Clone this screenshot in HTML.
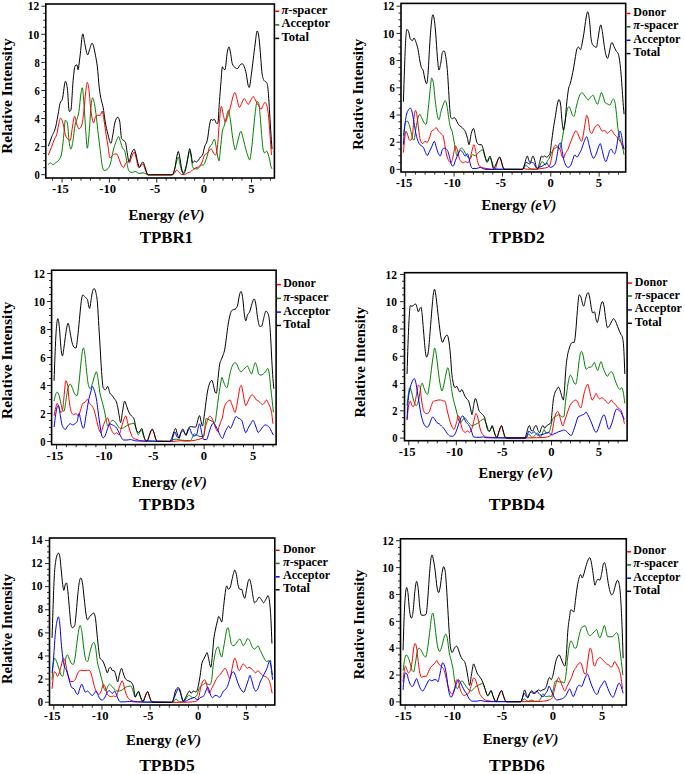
<!DOCTYPE html>
<html><head><meta charset="utf-8"><style>
html,body{margin:0;padding:0;background:#fff;}
svg{display:block;}
text{font-family:"Liberation Serif", serif;font-weight:bold;fill:#000;}
</style></head><body>
<svg width="685" height="774" viewBox="0 0 685 774">
<path d="M48.33,164.69 C48.97,164.04 49.62,162.75 50.26,162.75 C51.1,162.75 51.94,164.69 52.78,164.69 C53.75,164.69 54.72,163.54 55.69,162.75 C56.98,161.71 58.27,161.46 59.57,158.88 C60.21,157.58 60.86,157.26 61.5,154.03 C62.15,150.8 62.8,144.18 63.44,138.53 C64.09,132.87 64.73,120.12 65.38,120.12 C66.03,120.12 66.67,121.09 67.32,123.02 C67.96,124.96 68.61,137.96 69.26,142.4 C69.77,145.96 70.29,149.19 70.81,149.19 C71.45,149.19 72.1,145.84 72.74,142.4 C73.52,138.28 74.29,128.87 75.07,124.96 C75.72,121.7 76.36,121.41 77.01,119.15 C77.65,116.89 78.3,115.59 78.95,111.4 C79.59,107.2 80.24,98.08 80.88,93.95 C81.34,91.06 81.79,87.75 82.24,87.75 C82.76,87.75 83.27,95.68 83.79,101.71 C84.44,109.24 85.08,122.43 85.73,130.78 C86.25,137.45 86.76,148.22 87.28,148.22 C87.86,148.22 88.44,140.89 89.02,134.65 C89.67,127.72 90.32,113.78 90.96,107.52 C91.48,102.51 91.99,97.83 92.51,97.83 C93.16,97.83 93.8,100.41 94.45,103.64 C95.1,106.87 95.74,112.04 96.39,117.21 C97.03,122.38 97.68,129.16 98.33,134.65 C98.97,140.14 99.62,144.99 100.26,150.16 C100.91,155.32 101.56,162.43 102.2,165.66 C102.85,168.89 103.49,170.5 104.14,170.5 C105.43,170.5 106.72,169.86 108.02,168.57 C108.98,167.6 109.95,165.59 110.92,161.78 C111.57,159.24 112.21,154.89 112.86,152.09 C113.83,147.89 114.8,144.99 115.77,142.4 C116.74,139.82 117.71,136.59 118.67,136.59 C119.32,136.59 119.97,140.47 120.61,142.4 C121.26,144.34 121.9,146.93 122.55,148.22 C123.2,149.51 123.84,148.86 124.49,150.16 C124.94,151.06 125.39,153.62 125.84,155.97 C126.36,158.66 126.88,163.18 127.4,165.66 C128.04,168.76 128.69,171.04 129.33,171.47 C130.3,172.12 131.27,172.44 132.24,172.44 C133.21,172.44 134.18,171.47 135.15,171.47 C136.44,171.47 137.73,173.41 139.02,173.41 C140.34,173.41 141.66,172.86 142.98,172.86 C143.97,172.86 144.96,173.42 145.96,173.85 C146.62,174.14 147.28,174.84 147.94,174.84 C156.21,174.84 164.49,174.84 172.76,174.84 C173.42,174.84 174.08,171.2 174.74,168.89 C175.41,166.57 176.07,163.05 176.73,160.95 C177.26,159.28 177.79,156.98 178.32,156.98 C178.91,156.98 179.51,162.61 180.11,164.92 C180.97,168.26 181.83,172.86 182.69,172.86 C183.55,172.86 184.41,171.39 185.27,168.89 C186.06,166.58 186.86,162.2 187.65,158.97 C188.31,156.27 188.97,151.03 189.64,151.03 C190.16,151.03 190.69,154.04 191.22,156.98 C191.69,159.56 192.15,165.98 192.61,166.9 C193.27,168.23 193.94,168.89 194.6,168.89 C195.59,168.89 196.58,168.89 197.58,168.89 C198.24,168.89 198.9,167.57 199.56,166.9 C200.22,166.24 200.89,164.92 201.55,164.92 C202.21,164.92 202.87,164.92 203.53,164.92 C204.19,164.92 204.86,162.61 205.52,160.95 C206.18,159.3 206.84,157.31 207.5,155 C208.17,152.69 208.83,148.39 209.49,147.06 C210.15,145.74 210.81,146.01 211.47,145.08 C212.47,143.69 213.46,139.13 214.45,139.13 C214.92,139.13 215.38,142.67 215.84,145.08 C216.37,147.83 216.9,152.35 217.43,155 C217.96,157.65 218.49,160.95 219.02,160.95 C219.48,160.95 219.95,153.1 220.41,149.05 C221.07,143.26 221.73,135.16 222.39,131.19 C223.06,127.22 223.72,127.55 224.38,125.24 C225.04,122.92 225.7,119.78 226.36,117.3 C227.03,114.82 227.69,110.36 228.35,110.36 C229.01,110.36 229.67,115.15 230.34,119.29 C231,123.42 231.66,130.53 232.32,135.16 C232.98,139.79 233.64,144.42 234.31,147.06 C234.64,148.39 234.97,150.04 235.3,150.04 C235.96,150.04 236.62,145.58 237.28,143.1 C237.95,140.62 238.61,137.25 239.27,135.16 C239.8,133.48 240.33,131.19 240.86,131.19 C241.52,131.19 242.18,134.81 242.84,137.14 C243.64,139.94 244.43,144.05 245.23,147.06 C246.22,150.83 247.21,154.48 248.2,156.98 C248.67,158.15 249.13,159.96 249.59,159.96 C250.26,159.96 250.92,154.34 251.58,149.05 C252.11,144.81 252.64,138.47 253.17,133.17 C253.83,126.56 254.49,118.62 255.15,113.33 C255.82,108.04 256.48,101.43 257.14,101.43 C257.67,101.43 258.2,102.09 258.73,103.41 C259.19,104.57 259.65,110.36 260.12,115.32 C260.58,120.28 261.04,127.84 261.51,133.17 C262.04,139.27 262.57,146.4 263.09,149.05 C263.62,151.69 264.15,153.02 264.68,153.02 C265.35,153.02 266.01,151.03 266.67,151.03 C267.13,151.03 267.6,152.69 268.06,154.01 C268.52,155.33 268.98,157.01 269.45,158.97 C269.98,161.21 270.51,165.24 271.04,166.9 C271.37,167.95 271.7,168.23 272.03,168.89" fill="none" stroke="#008000" stroke-width="1.0" stroke-linejoin="round"/>
<path d="M48.33,155 C49.49,152.09 50.65,149.29 51.81,146.28 C52.78,143.77 53.75,140.72 54.72,138.53 C55.37,137.06 56.01,136.91 56.66,134.65 C57.3,132.39 57.95,127.71 58.6,124.96 C59.24,122.22 59.89,118.18 60.53,118.18 C61.5,118.18 62.47,121.15 63.44,124.96 C64.09,127.5 64.73,132.5 65.38,134.65 C66.35,137.88 67.32,138.56 68.29,139.5 C68.93,140.12 69.58,140.47 70.22,140.47 C70.87,140.47 71.52,132.43 72.16,128.84 C73,124.16 73.84,116.24 74.68,116.24 C75.46,116.24 76.23,122.79 77.01,124.96 C77.65,126.77 78.3,128.84 78.95,128.84 C79.91,128.84 80.88,127.55 81.85,124.96 C82.5,123.24 83.14,116.89 83.79,111.4 C84.44,105.9 85.08,97.13 85.73,92.02 C86.25,87.92 86.76,82.33 87.28,82.33 C87.86,82.33 88.44,85.4 89.02,90.08 C89.54,94.24 90.06,102.8 90.57,107.52 C91.22,113.42 91.87,117.42 92.51,120.12 C92.83,121.46 93.16,123.02 93.48,123.02 C94.13,123.02 94.77,118.5 95.42,117.21 C96.06,115.92 96.71,115.27 97.36,115.27 C98.33,115.27 99.29,115.27 100.26,115.27 C100.91,115.27 101.56,111.01 102.2,111.01 C102.85,111.01 103.49,117.14 104.14,121.09 C104.79,125.03 105.43,130.45 106.08,134.65 C106.72,138.85 107.37,142.4 108.02,146.28 C108.66,150.16 109.31,157.91 109.95,157.91 C110.6,157.91 111.25,156.53 111.89,155.97 C112.86,155.13 113.83,154.03 114.8,154.03 C115.44,154.03 116.09,154.03 116.74,154.03 C117.38,154.03 118.03,156.44 118.67,157.91 C119.64,160.1 120.61,164.04 121.58,165.66 C122.23,166.74 122.87,167.6 123.52,167.6 C124.17,167.6 124.81,164.69 125.46,163.72 C126.1,162.75 126.75,161.78 127.4,161.78 C128.04,161.78 128.69,162.75 129.33,162.75 C129.98,162.75 130.63,159.39 131.27,157.91 C132.24,155.68 133.21,152.09 134.18,152.09 C134.82,152.09 135.47,155.73 136.12,157.91 C136.96,160.74 137.8,167.6 138.64,167.6 C139.41,167.6 140.19,166.32 140.96,165.66 C141.63,165.09 142.31,163.93 142.98,163.93 C143.64,163.93 144.3,167.37 144.96,168.89 C145.96,171.17 146.95,174.84 147.94,174.84 C155.88,174.84 163.82,174.84 171.77,174.84 C172.76,174.84 173.75,174.01 174.74,172.86 C175.41,172.09 176.07,169.88 176.73,169.88 C177.39,169.88 178.05,171.24 178.72,171.87 C179.71,172.8 180.7,174.44 181.69,174.44 C182.69,174.44 183.68,174.44 184.67,174.44 C185.66,174.44 186.66,173.29 187.65,172.86 C188.64,172.43 189.64,172.53 190.63,171.87 C191.29,171.42 191.95,170.45 192.61,169.88 C193.61,169.02 194.6,168.39 195.59,167.9 C196.58,167.4 197.58,167.57 198.57,166.9 C199.23,166.46 199.89,165.91 200.55,164.92 C201.22,163.93 201.88,162.61 202.54,160.95 C203.2,159.3 203.86,155.88 204.53,155 C205.52,153.68 206.51,154.17 207.5,153.02 C208.17,152.24 208.83,150.7 209.49,150.04 C210.15,149.38 210.81,149.05 211.47,149.05 C212.14,149.05 212.8,152.02 213.46,153.02 C214.12,154.01 214.78,155 215.45,155 C216.11,155 216.77,152.35 217.43,147.06 C218.09,141.77 218.75,128.05 219.42,121.27 C220.08,114.49 220.74,106.39 221.4,106.39 C222.06,106.39 222.73,112.67 223.39,115.32 C224.05,117.96 224.71,122.26 225.37,122.26 C226.03,122.26 226.7,119.12 227.36,117.3 C228.02,115.48 228.68,113.66 229.34,111.35 C230,109.03 230.67,106.06 231.33,103.41 C231.99,100.77 232.65,97.34 233.31,95.48 C233.84,93.98 234.37,92.5 234.9,92.5 C235.56,92.5 236.23,96.24 236.89,98.45 C237.68,101.1 238.48,107.38 239.27,107.38 C240.06,107.38 240.86,104.83 241.65,103.41 C242.51,101.87 243.37,98.45 244.23,98.45 C244.9,98.45 245.56,100.44 246.22,101.43 C246.88,102.42 247.54,104.4 248.2,104.4 C249.2,104.4 250.19,101 251.18,99.44 C251.84,98.41 252.51,96.47 253.17,96.47 C253.83,96.47 254.49,98.29 255.15,99.44 C255.82,100.6 256.48,102.26 257.14,103.41 C257.8,104.57 258.46,105.4 259.12,106.39 C259.79,107.38 260.45,109.37 261.11,109.37 C261.77,109.37 262.43,106.55 263.09,105.4 C263.76,104.24 264.42,102.42 265.08,102.42 C265.74,102.42 266.4,103.74 267.07,106.39 C267.6,108.51 268.12,111.98 268.65,117.3 C269.12,121.96 269.58,128.88 270.04,135.16 C270.51,141.44 270.97,148.39 271.43,155" fill="none" stroke="#ff0000" stroke-width="1.0" stroke-linejoin="round"/>
<path d="M48.33,146.28 C49.49,143.05 50.65,139.67 51.81,136.59 C53.11,133.17 54.4,132.22 55.69,126.9 C56.66,122.91 57.63,116.81 58.6,111.4 C59.05,108.87 59.5,105.38 59.95,103.64 C60.79,100.41 61.63,102 62.47,98.8 C63.44,95.1 64.41,81.36 65.38,81.36 C66.03,81.36 66.67,83.62 67.32,88.14 C67.96,92.66 68.61,111.4 69.26,111.4 C69.77,111.4 70.29,111.07 70.81,110.43 C71.58,109.46 72.36,88.11 73.13,80.39 C73.78,73.95 74.42,66.5 75.07,65.85 C75.72,65.21 76.36,64.88 77.01,64.88 C77.33,64.88 77.65,69.73 77.98,69.73 C78.62,69.73 79.27,61.72 79.91,57.13 C80.88,50.25 81.85,33.88 82.82,33.88 C83.47,33.88 84.11,40.63 84.76,43.57 C85.73,47.97 86.7,54.81 87.67,54.81 C88.31,54.81 88.96,51.09 89.6,49.38 C90.44,47.15 91.28,43.18 92.12,43.18 C93.22,43.18 94.32,49.56 95.42,55.19 C96.06,58.51 96.71,61.33 97.36,66.82 C98,72.31 98.65,82.65 99.29,88.14 C99.94,93.63 100.59,96.54 101.23,99.77 C101.88,103 102.52,103.97 103.17,107.52 C103.82,111.07 104.46,117.17 105.11,121.09 C106.08,126.96 107.05,130.94 108.02,134.65 C108.98,138.37 109.95,143.37 110.92,143.37 C111.57,143.37 112.21,138.04 112.86,134.65 C113.51,131.26 114.15,125.61 114.8,123.02 C115.77,119.15 116.74,117.21 117.71,117.21 C118.35,117.21 119,118.5 119.64,121.09 C120.29,123.67 120.94,137.24 121.58,138.53 C122.23,139.82 122.87,139.82 123.52,140.47 C124.17,141.11 124.81,141.11 125.46,142.4 C126.1,143.7 126.75,150.51 127.4,154.03 C127.91,156.84 128.43,161.78 128.95,161.78 C129.72,161.78 130.5,156.04 131.27,154.03 C132.24,151.52 133.21,149.19 134.18,149.19 C134.82,149.19 135.47,152.58 136.12,155 C136.76,157.42 137.41,161.58 138.05,163.72 C138.57,165.44 139.09,167.4 139.6,167.4 C140.19,167.4 140.77,164.64 141.35,163.72 C141.89,162.86 142.44,161.94 142.98,161.94 C143.64,161.94 144.3,165.21 144.96,166.9 C145.96,169.45 146.95,174.84 147.94,174.84 C155.88,174.84 163.82,174.84 171.77,174.84 C172.76,174.84 173.75,172.86 174.74,168.89 C175.41,166.24 176.07,160.03 176.73,156.98 C177.26,154.54 177.79,151.43 178.32,151.43 C178.78,151.43 179.24,154.75 179.71,156.98 C180.37,160.17 181.03,166.08 181.69,168.89 C182.36,171.7 183.02,173.85 183.68,173.85 C184.67,173.85 185.66,169.68 186.66,164.92 C187.32,161.75 187.98,156.28 188.64,153.02 C188.97,151.38 189.3,148.65 189.64,148.65 C190.16,148.65 190.69,152.4 191.22,155 C191.69,157.28 192.15,162.94 192.61,162.94 C193.27,162.94 193.94,160.95 194.6,160.95 C195.26,160.95 195.92,161.94 196.58,161.94 C197.25,161.94 197.91,160.79 198.57,159.96 C199.23,159.13 199.89,157.81 200.55,156.98 C201.22,156.16 201.88,156.32 202.54,155 C203.2,153.68 203.86,149.36 204.53,147.06 C205.52,143.62 206.51,144.35 207.5,139.13 C208.17,135.64 208.83,128.67 209.49,125.24 C210.02,122.49 210.55,119.29 211.08,119.29 C211.54,119.29 212,120.28 212.47,120.28 C213.13,120.28 213.79,119.29 214.45,119.29 C215.11,119.29 215.78,123.25 216.44,123.25 C216.9,123.25 217.36,123.25 217.83,123.25 C218.36,123.25 218.89,108.37 219.42,101.43 C219.95,94.48 220.47,87.7 221,81.59 C221.47,76.24 221.93,66.71 222.39,66.71 C222.73,66.71 223.06,68.28 223.39,68.69 C223.92,69.35 224.45,69.68 224.98,69.68 C225.77,69.68 226.56,55.69 227.36,51.83 C227.89,49.25 228.42,46.87 228.95,46.87 C229.41,46.87 229.87,49.71 230.34,51.83 C231,54.85 231.66,61.97 232.32,63.73 C233.31,66.38 234.31,66.87 235.3,67.7 C235.96,68.25 236.62,68.69 237.28,68.69 C238.28,68.69 239.27,65.55 240.26,64.72 C240.92,64.17 241.59,63.73 242.25,63.73 C242.91,63.73 243.57,65.05 244.23,66.71 C244.9,68.36 245.56,70.51 246.22,73.65 C246.88,76.79 247.54,83.35 248.2,85.56 C248.54,86.66 248.87,87.54 249.2,87.54 C249.86,87.54 250.52,80.26 251.18,75.63 C251.84,71.01 252.51,65.05 253.17,59.76 C253.83,54.47 254.49,48.68 255.15,43.89 C255.82,39.09 256.48,30.99 257.14,30.99 C257.67,30.99 258.2,32.65 258.73,35.95 C259.19,38.85 259.65,44.83 260.12,49.84 C260.78,57 261.44,69.02 262.1,73.65 C262.76,78.28 263.43,79.58 264.09,80.6 C264.95,81.92 265.81,81.26 266.67,82.58 C267.13,83.29 267.6,85.06 268.06,89.52 C268.52,93.99 268.98,102.16 269.45,109.37 C269.85,115.54 270.24,123.03 270.64,129.21 C271.1,136.41 271.57,142.43 272.03,149.05" fill="none" stroke="#000000" stroke-width="1.0" stroke-linejoin="round"/>
<rect x="45.8" y="4" width="228.6" height="174" fill="none" stroke="#000" stroke-width="1.6"/>
<line x1="41.3" y1="174.7" x2="45.8" y2="174.7" stroke="#111" stroke-width="0.9"/>
<text x="34.6" y="178.94" font-size="12.8" textLength="5.3" lengthAdjust="spacingAndGlyphs">0</text>
<line x1="43.3" y1="167.68" x2="45.8" y2="167.68" stroke="#111" stroke-width="0.9"/>
<line x1="43.3" y1="160.66" x2="45.8" y2="160.66" stroke="#111" stroke-width="0.9"/>
<line x1="43.3" y1="153.64" x2="45.8" y2="153.64" stroke="#111" stroke-width="0.9"/>
<line x1="41.3" y1="146.62" x2="45.8" y2="146.62" stroke="#111" stroke-width="0.9"/>
<text x="34.6" y="150.86" font-size="12.8" textLength="5.3" lengthAdjust="spacingAndGlyphs">2</text>
<line x1="43.3" y1="139.6" x2="45.8" y2="139.6" stroke="#111" stroke-width="0.9"/>
<line x1="43.3" y1="132.58" x2="45.8" y2="132.58" stroke="#111" stroke-width="0.9"/>
<line x1="43.3" y1="125.56" x2="45.8" y2="125.56" stroke="#111" stroke-width="0.9"/>
<line x1="41.3" y1="118.54" x2="45.8" y2="118.54" stroke="#111" stroke-width="0.9"/>
<text x="34.6" y="122.78" font-size="12.8" textLength="5.3" lengthAdjust="spacingAndGlyphs">4</text>
<line x1="43.3" y1="111.52" x2="45.8" y2="111.52" stroke="#111" stroke-width="0.9"/>
<line x1="43.3" y1="104.5" x2="45.8" y2="104.5" stroke="#111" stroke-width="0.9"/>
<line x1="43.3" y1="97.48" x2="45.8" y2="97.48" stroke="#111" stroke-width="0.9"/>
<line x1="41.3" y1="90.46" x2="45.8" y2="90.46" stroke="#111" stroke-width="0.9"/>
<text x="34.6" y="94.7" font-size="12.8" textLength="5.3" lengthAdjust="spacingAndGlyphs">6</text>
<line x1="43.3" y1="83.44" x2="45.8" y2="83.44" stroke="#111" stroke-width="0.9"/>
<line x1="43.3" y1="76.42" x2="45.8" y2="76.42" stroke="#111" stroke-width="0.9"/>
<line x1="43.3" y1="69.4" x2="45.8" y2="69.4" stroke="#111" stroke-width="0.9"/>
<line x1="41.3" y1="62.38" x2="45.8" y2="62.38" stroke="#111" stroke-width="0.9"/>
<text x="34.6" y="66.62" font-size="12.8" textLength="5.3" lengthAdjust="spacingAndGlyphs">8</text>
<line x1="43.3" y1="55.36" x2="45.8" y2="55.36" stroke="#111" stroke-width="0.9"/>
<line x1="43.3" y1="48.34" x2="45.8" y2="48.34" stroke="#111" stroke-width="0.9"/>
<line x1="43.3" y1="41.32" x2="45.8" y2="41.32" stroke="#111" stroke-width="0.9"/>
<line x1="41.3" y1="34.3" x2="45.8" y2="34.3" stroke="#111" stroke-width="0.9"/>
<text x="27.8" y="38.54" font-size="12.8" textLength="11.5" lengthAdjust="spacingAndGlyphs">10</text>
<line x1="43.3" y1="27.28" x2="45.8" y2="27.28" stroke="#111" stroke-width="0.9"/>
<line x1="43.3" y1="20.26" x2="45.8" y2="20.26" stroke="#111" stroke-width="0.9"/>
<line x1="43.3" y1="13.24" x2="45.8" y2="13.24" stroke="#111" stroke-width="0.9"/>
<line x1="41.3" y1="6.22" x2="45.8" y2="6.22" stroke="#111" stroke-width="0.9"/>
<text x="27.8" y="10.46" font-size="12.8" textLength="11.5" lengthAdjust="spacingAndGlyphs">12</text>
<line x1="52.58" y1="178" x2="52.58" y2="180.6" stroke="#111" stroke-width="0.9"/>
<line x1="62.05" y1="178" x2="62.05" y2="182.6" stroke="#111" stroke-width="0.9"/>
<text x="60.35" y="193.2" text-anchor="middle" font-size="12.6">-15</text>
<line x1="71.52" y1="178" x2="71.52" y2="180.6" stroke="#111" stroke-width="0.9"/>
<line x1="80.99" y1="178" x2="80.99" y2="180.6" stroke="#111" stroke-width="0.9"/>
<line x1="90.46" y1="178" x2="90.46" y2="180.6" stroke="#111" stroke-width="0.9"/>
<line x1="99.93" y1="178" x2="99.93" y2="180.6" stroke="#111" stroke-width="0.9"/>
<line x1="109.4" y1="178" x2="109.4" y2="182.6" stroke="#111" stroke-width="0.9"/>
<text x="107.7" y="193.2" text-anchor="middle" font-size="12.6">-10</text>
<line x1="118.87" y1="178" x2="118.87" y2="180.6" stroke="#111" stroke-width="0.9"/>
<line x1="128.34" y1="178" x2="128.34" y2="180.6" stroke="#111" stroke-width="0.9"/>
<line x1="137.81" y1="178" x2="137.81" y2="180.6" stroke="#111" stroke-width="0.9"/>
<line x1="147.28" y1="178" x2="147.28" y2="180.6" stroke="#111" stroke-width="0.9"/>
<line x1="156.75" y1="178" x2="156.75" y2="182.6" stroke="#111" stroke-width="0.9"/>
<text x="155.05" y="193.2" text-anchor="middle" font-size="12.6">-5</text>
<line x1="166.22" y1="178" x2="166.22" y2="180.6" stroke="#111" stroke-width="0.9"/>
<line x1="175.69" y1="178" x2="175.69" y2="180.6" stroke="#111" stroke-width="0.9"/>
<line x1="185.16" y1="178" x2="185.16" y2="180.6" stroke="#111" stroke-width="0.9"/>
<line x1="194.63" y1="178" x2="194.63" y2="180.6" stroke="#111" stroke-width="0.9"/>
<line x1="204.1" y1="178" x2="204.1" y2="182.6" stroke="#111" stroke-width="0.9"/>
<text x="203.95" y="193.2" text-anchor="middle" font-size="12.6">0</text>
<line x1="213.57" y1="178" x2="213.57" y2="180.6" stroke="#111" stroke-width="0.9"/>
<line x1="223.04" y1="178" x2="223.04" y2="180.6" stroke="#111" stroke-width="0.9"/>
<line x1="232.51" y1="178" x2="232.51" y2="180.6" stroke="#111" stroke-width="0.9"/>
<line x1="241.98" y1="178" x2="241.98" y2="180.6" stroke="#111" stroke-width="0.9"/>
<line x1="251.45" y1="178" x2="251.45" y2="182.6" stroke="#111" stroke-width="0.9"/>
<text x="251.3" y="193.2" text-anchor="middle" font-size="12.6">5</text>
<line x1="260.92" y1="178" x2="260.92" y2="180.6" stroke="#111" stroke-width="0.9"/>
<line x1="270.39" y1="178" x2="270.39" y2="180.6" stroke="#111" stroke-width="0.9"/>
<line x1="275.2" y1="11.2" x2="279.2" y2="11.2" stroke="#ff0000" stroke-width="1.5"/>
<text x="281.4" y="13.7" font-size="12.6" textLength="46" lengthAdjust="spacingAndGlyphs"><tspan font-style="italic">π</tspan>-spacer</text>
<line x1="275.2" y1="24.9" x2="279.2" y2="24.9" stroke="#008000" stroke-width="1.5"/>
<text x="281.4" y="27.4" font-size="12.6" textLength="48.6" lengthAdjust="spacingAndGlyphs">Acceptor</text>
<line x1="275.2" y1="38.4" x2="279.2" y2="38.4" stroke="#000000" stroke-width="1.5"/>
<text x="281.4" y="40.9" font-size="12.6" textLength="27.5" lengthAdjust="spacingAndGlyphs">Total</text>
<text transform="translate(12.3,96.05) rotate(-90)" text-anchor="middle" font-size="15.3" textLength="115.3" lengthAdjust="spacingAndGlyphs">Relative Intensity</text>
<text x="128.5" y="219.7" font-size="13.6" textLength="75.9" lengthAdjust="spacingAndGlyphs">Energy <tspan font-style="italic">(eV)</tspan></text>
<text x="139.7" y="243" font-size="17.5" textLength="53.3" lengthAdjust="spacingAndGlyphs">TPBR1</text>
<path d="M403.39,135.66 C403.92,131.89 404.45,125.94 404.98,124.35 C405.73,122.09 406.49,120.96 407.24,120.96 C407.84,120.96 408.45,122.66 409.05,124.35 C409.65,126.05 410.26,128.7 410.86,131.14 C411.39,133.27 411.92,136.41 412.44,137.92 C412.97,139.43 413.5,140.18 414.03,140.18 C414.63,140.18 415.23,132.31 415.84,128.88 C416.59,124.58 417.35,120.03 418.1,117.57 C418.7,115.6 419.31,114.18 419.91,114.18 C420.44,114.18 420.97,116.47 421.49,117.57 C422.25,119.14 423,120.96 423.76,122.09 C424.51,123.22 425.26,124.35 426.02,124.35 C426.77,124.35 427.53,115.06 428.28,108.53 C428.88,103.3 429.49,95.78 430.09,90.44 C430.62,85.77 431.15,78 431.67,78 C432.28,78 432.88,79.89 433.48,83.66 C434.01,86.95 434.54,94.86 435.07,99.48 C435.82,106.09 436.58,111.87 437.33,115.31 C437.86,117.72 438.39,119.83 438.91,119.83 C439.67,119.83 440.42,113.43 441.18,110.79 C441.93,108.15 442.68,105.8 443.44,104.01 C444.04,102.57 444.65,100.61 445.25,100.61 C445.85,100.61 446.46,103.09 447.06,106.27 C447.59,109.05 448.11,114.18 448.64,117.57 C449.17,120.96 449.7,124.39 450.23,126.61 C450.83,129.16 451.43,128.88 452.04,131.14 C452.64,133.4 453.24,136.94 453.85,140.18 C454.37,143.02 454.9,146.59 455.43,149.22 C455.96,151.86 456.49,156.01 457.01,156.01 C457.77,156.01 458.52,151.67 459.28,150.36 C460.03,149.04 460.78,148.09 461.54,148.09 C462.29,148.09 463.05,149.24 463.8,150.36 C464.4,151.25 465.01,152.72 465.61,153.75 C466.37,155.03 467.12,156.22 467.87,157.14 C468.58,158 469.29,159.15 470,159.15 C470.87,159.15 471.75,154.54 472.62,154.54 C473.5,154.54 474.37,155.85 475.25,155.85 C476.12,155.85 477,154.01 477.87,153.23 C479.41,151.85 480.95,149.95 482.49,149.95 C483.36,149.95 484.24,154.79 485.11,157.16 C485.77,158.94 486.43,162.43 487.08,162.43 C488.07,162.43 489.06,157.59 490.05,157.59 C491.54,157.59 493.03,168 494.52,168.44 C496.03,168.9 497.54,169.09 499.04,169.12 C506.96,169.27 514.87,169.35 522.78,169.35 C523.31,169.35 523.84,167.98 524.36,167.31 C524.97,166.55 525.57,165.05 526.17,165.05 C526.77,165.05 527.38,166.76 527.98,167.31 C528.73,168 529.49,168.15 530.24,168.44 C531.15,168.79 532.05,169.12 532.95,169.12 C534.46,169.12 535.97,169.12 537.48,169.12 C538.23,169.12 538.98,167.43 539.74,166.18 C540.49,164.94 541.24,161.66 542,161.66 C542.6,161.66 543.2,162.16 543.81,162.79 C544.33,163.35 544.86,165.05 545.39,165.05 C546.14,165.05 546.89,161.78 547.65,160.53 C548.18,159.65 548.7,159.29 549.23,158.27 C549.83,157.11 550.44,155.07 551.04,153.75 C551.79,152.1 552.55,150.62 553.3,149.68 C554.05,148.73 554.81,148.59 555.56,148.09 C556.16,147.7 556.77,146.96 557.37,146.96 C557.9,146.96 558.42,149.22 558.95,149.22 C559.71,149.22 560.46,147.72 561.21,144.7 C561.97,141.69 562.72,135.66 563.47,131.14 C564.23,126.61 564.98,121.67 565.73,117.57 C566.34,114.29 566.94,109.91 567.54,108.53 C568.07,107.32 568.6,106.72 569.13,106.72 C569.73,106.72 570.33,109.24 570.93,110.79 C571.46,112.15 571.99,114.56 572.52,115.31 C573.04,116.06 573.57,116.44 574.1,116.44 C574.7,116.44 575.3,111.06 575.91,108.53 C576.66,105.36 577.41,101.93 578.17,99.48 C578.92,97.03 579.68,94.77 580.43,93.83 C581.03,93.08 581.63,92.7 582.24,92.7 C582.84,92.7 583.44,94.18 584.05,94.96 C584.72,95.84 585.4,96.88 586.08,97.67 C586.83,98.56 587.59,99.94 588.34,99.94 C589.1,99.94 589.85,97.99 590.6,97.22 C591.43,96.38 592.26,95.19 593.09,95.19 C593.84,95.19 594.6,99.05 595.35,100.61 C596.03,102.02 596.71,104.23 597.38,104.23 C598.14,104.23 598.89,99.85 599.65,97.67 C600.25,95.93 600.85,92.47 601.45,92.47 C601.98,92.47 602.51,94.73 603.04,96.09 C603.79,98.04 604.54,102.12 605.3,102.87 C606.05,103.63 606.8,103.63 607.56,104.01 C608.31,104.38 609.06,105.14 609.82,105.14 C610.57,105.14 611.33,101.73 612.08,100.61 C612.53,99.94 612.98,99.03 613.44,99.03 C613.89,99.03 614.34,99.94 614.79,101.74 C615.24,103.55 615.7,107.08 616.15,110.79 C616.68,115.12 617.2,122.47 617.73,126.61 C618.26,130.76 618.79,133.13 619.31,135.66 C619.92,138.55 620.52,140.18 621.12,142.44 C621.72,144.7 622.33,146.5 622.93,149.22 C623.31,150.93 623.68,152.99 624.06,154.88" fill="none" stroke="#008000" stroke-width="1.0" stroke-linejoin="round"/>
<path d="M403.39,152.62 C403.77,148.47 404.15,143.5 404.52,140.18 C405.05,135.54 405.58,131.14 406.11,131.14 C406.71,131.14 407.32,134.04 407.92,135.66 C408.45,137.08 408.97,140.18 409.5,140.18 C409.95,140.18 410.41,140.18 410.86,140.18 C411.39,140.18 411.92,138.67 412.44,135.66 C412.97,132.64 413.5,121.87 414.03,117.57 C414.48,113.89 414.93,110.34 415.38,110.34 C415.91,110.34 416.44,112.22 416.97,115.31 C417.5,118.4 418.02,124.93 418.55,128.88 C419.16,133.39 419.76,138.37 420.36,140.18 C421.12,142.44 421.87,143.57 422.62,143.57 C423.38,143.57 424.13,141.31 424.89,141.31 C425.64,141.31 426.4,142.44 427.15,142.44 C427.9,142.44 428.66,139.8 429.41,137.92 C430.17,136.04 430.92,132.08 431.67,131.14 C432.28,130.38 432.88,130.43 433.48,130.01 C434.39,129.37 435.29,127.75 436.2,127.75 C436.95,127.75 437.71,130.19 438.46,131.14 C439.22,132.08 439.97,132.64 440.72,133.4 C441.48,134.15 442.23,134.15 442.99,135.66 C443.59,136.86 444.19,141.46 444.8,144.7 C445.32,147.54 445.85,151.32 446.38,153.75 C447.13,157.21 447.89,159.02 448.64,160.53 C449.4,162.04 450.15,162.79 450.9,162.79 C451.66,162.79 452.41,158.83 453.17,156.01 C453.92,153.18 454.68,145.83 455.43,145.83 C456.18,145.83 456.94,148.81 457.69,151.49 C458.22,153.36 458.75,156.6 459.28,158.27 C459.88,160.17 460.48,161.06 461.09,161.66 C461.84,162.41 462.59,162.79 463.35,162.79 C464.1,162.79 464.86,161.66 465.61,161.66 C466.37,161.66 467.12,162.79 467.87,162.79 C468.63,162.79 469.38,160.53 470.14,158.27 C470.89,156.01 471.64,151.93 472.4,149.22 C472.85,147.6 473.3,144.7 473.76,144.7 C474.28,144.7 474.81,146.96 475.34,149.22 C475.87,151.49 476.4,155.74 476.92,158.27 C477.53,161.16 478.13,164.05 478.73,165.05 C479.64,166.56 480.54,166.86 481.45,167.31 C482.96,168.07 484.46,168.14 485.97,168.44 C488.82,169.01 491.67,169.35 494.52,169.35 C495.05,169.35 495.58,168.23 496.1,166.86 C496.71,165.3 497.31,161.62 497.91,160.08 C498.51,158.55 499.1,157.59 499.7,157.59 C500.23,157.59 500.77,160.09 501.3,161.66 C501.91,163.43 502.51,166.71 503.11,167.76 C503.72,168.82 504.32,169.35 504.92,169.35 C510.5,169.35 516.07,169.35 521.65,169.35 C522.4,169.35 523.16,168.44 523.91,168.44 C524.66,168.44 525.42,169.08 526.17,169.12 C529.19,169.27 532.2,169.35 535.21,169.35 C537.48,169.35 539.74,168.83 542,168.44 C543.88,168.12 545.76,168.07 547.65,167.31 C548.4,167.01 549.16,166.56 549.91,165.05 C550.44,164 550.96,160.71 551.49,158.27 C552.09,155.48 552.7,151.38 553.3,149.22 C554.05,146.53 554.81,145.16 555.56,145.16 C556.31,145.16 557.07,146.29 557.82,146.96 C558.58,147.64 559.33,147.72 560.08,149.22 C560.69,150.43 561.29,154.49 561.89,156.01 C562.42,157.33 562.95,158.27 563.47,158.27 C564.08,158.27 564.68,155.05 565.28,153.75 C566.19,151.79 567.09,151.41 568,149.22 C568.52,147.95 569.05,146.12 569.58,144.7 C570.18,143.08 570.78,141.69 571.39,140.18 C572.14,138.3 572.89,136.11 573.65,134.53 C574.4,132.95 575.15,130.68 575.91,130.68 C576.51,130.68 577.11,132.23 577.72,133.4 C578.47,134.86 579.22,137.64 579.98,139.05 C580.5,140.04 581.03,141.31 581.56,141.31 C582.09,141.31 582.61,138.2 583.14,135.66 C583.74,132.75 584.35,127.75 584.95,124.35 C585.55,120.96 586.16,115.31 586.76,115.31 C587.29,115.31 587.81,117.19 588.34,119.83 C588.87,122.47 589.4,129.82 589.92,131.14 C590.53,132.64 591.13,133.4 591.73,133.4 C592.49,133.4 593.24,130.19 593.99,128.88 C594.75,127.56 595.5,126.05 596.25,125.48 C596.86,125.03 597.46,124.81 598.06,124.81 C598.74,124.81 599.42,126.75 600.1,127.75 C600.85,128.85 601.6,131.14 602.36,131.14 C602.96,131.14 603.56,130.68 604.17,130.68 C604.69,130.68 605.22,130.84 605.75,131.14 C606.35,131.48 606.95,133.4 607.56,133.4 C608.31,133.4 609.06,131.73 609.82,131.14 C610.42,130.66 611.02,130.01 611.63,130.01 C612.31,130.01 612.98,132.42 613.66,133.4 C614.26,134.27 614.87,134.97 615.47,135.66 C616.22,136.52 616.98,136.98 617.73,137.92 C618.48,138.86 619.24,140.18 619.99,141.31 C620.75,142.44 621.5,143.15 622.25,144.7 C622.86,145.94 623.46,147.72 624.06,149.22" fill="none" stroke="#ff0000" stroke-width="1.0" stroke-linejoin="round"/>
<path d="M403.39,144.7 C403.77,139.43 404.15,133.21 404.52,128.88 C405.13,121.94 405.73,118.32 406.33,115.31 C407.09,111.54 407.84,110.88 408.6,109.66 C409.13,108.8 409.65,108.07 410.18,108.07 C410.71,108.07 411.24,109.07 411.76,110.79 C412.37,112.75 412.97,116.44 413.57,119.83 C414.18,123.22 414.78,127.97 415.38,131.14 C416.14,135.09 416.89,137.92 417.65,140.18 C418.4,142.44 419.16,143.77 419.91,144.7 C420.44,145.36 420.97,145.39 421.49,145.83 C422.25,146.46 423,146.78 423.76,148.09 C424.51,149.41 425.26,152.31 426.02,153.75 C426.4,154.46 426.77,155.56 427.15,155.56 C427.9,155.56 428.66,152.92 429.41,151.49 C430.17,150.05 430.92,148.5 431.67,146.96 C432.58,145.12 433.48,141.31 434.39,141.31 C434.99,141.31 435.6,145.11 436.2,146.96 C436.95,149.28 437.71,152.22 438.46,153.75 C439.06,154.97 439.67,156.01 440.27,156.01 C441.03,156.01 441.78,150.3 442.53,149.22 C443.06,148.47 443.59,148.09 444.12,148.09 C444.87,148.09 445.63,148.47 446.38,149.22 C446.91,149.75 447.44,150.16 447.96,151.49 C448.57,153 449.17,156.01 449.77,158.27 C450.38,160.53 450.98,164.19 451.58,165.05 C452.11,165.81 452.64,166.18 453.17,166.18 C453.92,166.18 454.68,162.35 455.43,160.53 C456.41,158.16 457.39,155.56 458.37,153.75 C459.13,152.35 459.88,150.36 460.63,150.36 C461.39,150.36 462.14,151.67 462.9,152.62 C463.65,153.56 464.4,156.01 465.16,156.01 C465.91,156.01 466.67,153.75 467.42,153.75 C467.95,153.75 468.48,156.38 469,158.27 C469.53,160.15 470.06,163.38 470.59,165.05 C471.19,166.96 471.79,168.44 472.4,168.44 C473.91,168.44 475.41,168.44 476.92,168.44 C478.05,168.44 479.19,167.31 480.32,167.31 C481.07,167.31 481.83,168.14 482.58,168.44 C483.71,168.9 484.84,169.35 485.97,169.35 C498.24,169.35 510.51,169.35 522.78,169.35 C523.53,169.35 524.29,165.23 525.04,163.92 C525.42,163.27 525.79,162.34 526.17,162.34 C526.77,162.34 527.38,162.96 527.98,163.24 C528.51,163.49 529.04,163.92 529.56,163.92 C530.32,163.92 531.07,162.34 531.82,162.34 C532.35,162.34 532.88,162.49 533.41,162.79 C534.01,163.14 534.61,165.24 535.21,166.18 C535.82,167.12 536.42,168.44 537.02,168.44 C537.78,168.44 538.53,167.66 539.28,167.31 C540.19,166.89 541.09,166.66 542,166.18 C543.13,165.59 544.26,164.49 545.39,163.92 C545.92,163.66 546.44,163.24 546.97,163.24 C547.57,163.24 548.18,165.5 548.78,166.18 C549.38,166.86 549.98,167.31 550.59,167.31 C551.49,167.31 552.4,166.94 553.3,166.18 C554.05,165.55 554.81,165.05 555.56,162.79 C556.16,160.98 556.77,156.99 557.37,153.75 C557.9,150.91 558.42,145.91 558.95,144.7 C559.48,143.5 560.01,142.89 560.53,142.89 C560.99,142.89 561.44,146.9 561.89,149.22 C562.42,151.94 562.95,155.84 563.47,158.27 C564.23,161.73 564.98,163.54 565.73,165.05 C566.49,166.56 567.24,167.31 568,167.31 C568.75,167.31 569.5,166.94 570.26,166.18 C571.01,165.43 571.76,162.41 572.52,160.53 C573.27,158.65 574.02,154.88 574.78,154.88 C575.53,154.88 576.28,157.14 577.04,157.14 C577.79,157.14 578.55,155.07 579.3,153.75 C580.05,152.43 580.81,151.11 581.56,149.22 C582.31,147.34 583.07,144.35 583.82,142.44 C584.8,139.96 585.78,136.79 586.76,136.79 C587.51,136.79 588.27,141.88 589.02,144.7 C589.77,147.53 590.53,151.49 591.28,153.75 C592.03,156.01 592.79,158.27 593.54,158.27 C594.45,158.27 595.35,155.91 596.25,153.75 C597.01,151.94 597.76,148.75 598.51,146.96 C599.12,145.53 599.72,143.57 600.32,143.57 C600.85,143.57 601.38,147.25 601.91,149.22 C602.66,152.05 603.41,156.08 604.17,158.27 C604.69,159.8 605.22,161.66 605.75,161.66 C606.5,161.66 607.26,158.15 608.01,156.01 C608.61,154.29 609.22,151.22 609.82,150.36 C610.35,149.6 610.87,149.22 611.4,149.22 C612,149.22 612.61,151.86 613.21,152.62 C613.74,153.28 614.26,153.75 614.79,153.75 C615.39,153.75 616,149.98 616.6,146.96 C617.2,143.95 617.81,138.34 618.41,135.66 C618.94,133.32 619.46,131.14 619.99,131.14 C620.52,131.14 621.05,133.07 621.57,135.66 C622.03,137.88 622.48,142.35 622.93,144.7 C623.31,146.67 623.68,147.72 624.06,149.22" fill="none" stroke="#0000ff" stroke-width="1.0" stroke-linejoin="round"/>
<path d="M403.39,101.74 C403.77,90.44 404.15,78 404.52,67.83 C404.9,57.66 405.28,47.1 405.66,40.7 C406.03,34.29 406.41,29.39 406.79,29.39 C407.39,29.39 407.99,30.15 408.6,31.65 C409.13,32.97 409.65,37.38 410.18,38.44 C410.94,39.94 411.69,40.7 412.44,40.7 C412.97,40.7 413.5,37.98 414.03,37.98 C414.63,37.98 415.23,40.18 415.84,41.83 C416.59,43.89 417.35,45.95 418.1,49.74 C418.7,52.77 419.31,57.91 419.91,61.05 C420.44,63.79 420.97,66.32 421.49,67.83 C422.02,69.34 422.55,68.58 423.08,70.09 C423.68,71.81 424.28,76.87 424.89,79.13 C425.49,81.4 426.09,83.66 426.7,83.66 C427.22,83.66 427.75,77.51 428.28,70.09 C428.66,64.79 429.03,55.91 429.41,49.74 C430.02,39.87 430.62,30.81 431.22,24.87 C431.75,19.68 432.28,14.7 432.81,14.7 C433.33,14.7 433.86,16.64 434.39,20.35 C434.84,23.53 435.29,28.5 435.75,33.91 C436.27,40.23 436.8,50.5 437.33,56.52 C437.86,62.55 438.39,70.09 438.91,70.09 C439.52,70.09 440.12,66.32 440.72,63.31 C441.33,60.29 441.93,52.86 442.53,52 C443.06,51.25 443.59,50.87 444.12,50.87 C444.65,50.87 445.17,53.37 445.7,56.52 C446.3,60.13 446.91,64.39 447.51,72.35 C447.89,77.33 448.27,84.41 448.64,90.44 C449.02,96.47 449.4,104.01 449.77,108.53 C450.15,113.05 450.53,117.03 450.9,117.57 C451.43,118.32 451.96,118.7 452.49,118.7 C453.09,118.7 453.7,117.57 454.3,117.57 C454.9,117.57 455.51,118.79 456.11,119.83 C456.64,120.74 457.16,122.28 457.69,123.22 C458.22,124.17 458.75,124.93 459.28,125.48 C459.88,126.12 460.48,126.14 461.09,126.61 C461.84,127.21 462.59,127.93 463.35,128.88 C464.1,129.82 464.86,130.46 465.61,132.27 C466.21,133.72 466.82,135.66 467.42,137.92 C467.95,139.9 468.48,144.7 469,144.7 C469.76,144.7 470.51,136.11 471.27,133.4 C472.02,130.68 472.78,128.42 473.53,128.42 C474.13,128.42 474.74,133.16 475.34,135.66 C475.87,137.85 476.4,141.39 476.92,142.44 C477.68,143.95 478.43,144.7 479.19,144.7 C479.94,144.7 480.69,144.7 481.45,144.7 C482.05,144.7 482.65,147.32 483.26,149.22 C484.01,151.61 484.77,156.08 485.52,158.27 C486.05,159.8 486.58,161.66 487.1,161.66 C487.63,161.66 488.16,159.26 488.69,158.27 C489.14,157.42 489.59,156.01 490.05,156.01 C490.63,156.01 491.22,160.61 491.81,162.79 C492.34,164.74 492.86,168.44 493.39,168.44 C494.14,168.44 494.9,166.56 495.65,165.05 C496.41,163.54 497.16,160.82 497.91,159.4 C498.51,158.28 499.1,156.91 499.7,156.91 C500.23,156.91 500.77,159.38 501.3,160.98 C501.91,162.78 502.51,165.91 503.11,167.31 C503.64,168.54 504.17,169.35 504.69,169.35 C510.72,169.35 516.75,169.35 522.78,169.35 C523.31,169.35 523.84,166.74 524.36,165.05 C524.97,163.12 525.57,159.88 526.17,158.27 C526.55,157.26 526.93,156.01 527.3,156.01 C527.83,156.01 528.36,159.36 528.88,160.53 C529.34,161.53 529.79,162.79 530.24,162.79 C530.77,162.79 531.3,159.51 531.82,158.27 C532.2,157.38 532.58,156.01 532.95,156.01 C533.56,156.01 534.16,158.45 534.76,160.53 C535.29,162.35 535.82,166.56 536.34,167.31 C536.87,168.07 537.4,168.44 537.93,168.44 C538.53,168.44 539.13,163.73 539.74,161.66 C540.34,159.59 540.94,156.01 541.54,156.01 C542.07,156.01 542.6,157.14 543.13,157.14 C543.65,157.14 544.18,156.01 544.71,156.01 C545.31,156.01 545.92,157.14 546.52,157.14 C547.12,157.14 547.72,156.64 548.33,156.01 C548.85,155.45 549.38,155.25 549.91,153.75 C550.44,152.24 550.96,146.3 551.49,142.44 C552.09,138.03 552.7,133 553.3,128.88 C554.05,123.73 554.81,119.94 555.56,115.31 C556.16,111.61 556.77,106.68 557.37,104.01 C557.9,101.66 558.42,99.48 558.95,99.48 C559.48,99.48 560.01,100.99 560.53,104.01 C560.99,106.59 561.44,115.65 561.89,119.83 C562.42,124.71 562.95,130.01 563.47,130.01 C564,130.01 564.53,126.27 565.06,122.09 C565.66,117.32 566.26,107.4 566.86,101.74 C567.47,96.09 568.07,91.21 568.67,88.18 C569.2,85.53 569.73,85.54 570.26,83.66 C570.78,81.77 571.31,79.31 571.84,76.87 C572.44,74.09 573.04,71.22 573.65,67.83 C574.25,64.44 574.85,59.89 575.46,56.52 C575.98,53.58 576.51,49.67 577.04,48.61 C577.57,47.56 578.09,47.03 578.62,47.03 C579.22,47.03 579.83,49.74 580.43,49.74 C581.03,49.74 581.63,45.85 582.24,42.96 C582.77,40.43 583.29,37.21 583.82,33.91 C584.57,29.21 585.33,22.03 586.08,18.09 C586.61,15.33 587.14,11.76 587.66,11.76 C588.27,11.76 588.87,15.34 589.47,20.35 C590,24.73 590.53,34.48 591.05,38.44 C591.66,42.96 592.26,44.36 592.86,45.22 C593.39,45.97 593.92,46 594.45,46.35 C595.05,46.76 595.65,47.48 596.25,47.48 C596.86,47.48 597.46,41.91 598.06,38.44 C598.59,35.4 599.12,30.6 599.65,28.26 C600.02,26.59 600.4,24.87 600.78,24.87 C601.3,24.87 601.83,28.6 602.36,31.65 C602.96,35.14 603.56,41.27 604.17,45.22 C604.69,48.67 605.22,52.1 605.75,54.26 C606.35,56.73 606.95,58.33 607.56,58.33 C608.16,58.33 608.76,54.6 609.37,52 C609.89,49.73 610.42,45.57 610.95,44.09 C611.33,43.03 611.7,42.51 612.08,42.51 C612.68,42.51 613.28,45.1 613.89,46.35 C614.64,47.91 615.39,49.55 616.15,50.87 C616.9,52.19 617.66,52 618.41,54.26 C618.94,55.85 619.46,58.97 619.99,63.31 C620.37,66.4 620.75,70.09 621.12,74.61 C621.5,79.13 621.88,85.16 622.25,90.44 C622.63,95.71 623.01,101.54 623.38,106.27 C623.61,109.1 623.83,111.54 624.06,114.18" fill="none" stroke="#000000" stroke-width="1.0" stroke-linejoin="round"/>
<rect x="401" y="3.4" width="224.7" height="168.6" fill="none" stroke="#000" stroke-width="1.6"/>
<line x1="396.5" y1="169.4" x2="401" y2="169.4" stroke="#111" stroke-width="0.9"/>
<text x="389.6" y="173.64" font-size="12.8" textLength="5.3" lengthAdjust="spacingAndGlyphs">0</text>
<line x1="398.5" y1="162.6" x2="401" y2="162.6" stroke="#111" stroke-width="0.9"/>
<line x1="398.5" y1="155.8" x2="401" y2="155.8" stroke="#111" stroke-width="0.9"/>
<line x1="398.5" y1="149" x2="401" y2="149" stroke="#111" stroke-width="0.9"/>
<line x1="396.5" y1="142.2" x2="401" y2="142.2" stroke="#111" stroke-width="0.9"/>
<text x="389.6" y="146.44" font-size="12.8" textLength="5.3" lengthAdjust="spacingAndGlyphs">2</text>
<line x1="398.5" y1="135.4" x2="401" y2="135.4" stroke="#111" stroke-width="0.9"/>
<line x1="398.5" y1="128.6" x2="401" y2="128.6" stroke="#111" stroke-width="0.9"/>
<line x1="398.5" y1="121.8" x2="401" y2="121.8" stroke="#111" stroke-width="0.9"/>
<line x1="396.5" y1="115" x2="401" y2="115" stroke="#111" stroke-width="0.9"/>
<text x="389.6" y="119.24" font-size="12.8" textLength="5.3" lengthAdjust="spacingAndGlyphs">4</text>
<line x1="398.5" y1="108.2" x2="401" y2="108.2" stroke="#111" stroke-width="0.9"/>
<line x1="398.5" y1="101.4" x2="401" y2="101.4" stroke="#111" stroke-width="0.9"/>
<line x1="398.5" y1="94.6" x2="401" y2="94.6" stroke="#111" stroke-width="0.9"/>
<line x1="396.5" y1="87.8" x2="401" y2="87.8" stroke="#111" stroke-width="0.9"/>
<text x="389.6" y="92.04" font-size="12.8" textLength="5.3" lengthAdjust="spacingAndGlyphs">6</text>
<line x1="398.5" y1="81" x2="401" y2="81" stroke="#111" stroke-width="0.9"/>
<line x1="398.5" y1="74.2" x2="401" y2="74.2" stroke="#111" stroke-width="0.9"/>
<line x1="398.5" y1="67.4" x2="401" y2="67.4" stroke="#111" stroke-width="0.9"/>
<line x1="396.5" y1="60.6" x2="401" y2="60.6" stroke="#111" stroke-width="0.9"/>
<text x="389.6" y="64.84" font-size="12.8" textLength="5.3" lengthAdjust="spacingAndGlyphs">8</text>
<line x1="398.5" y1="53.8" x2="401" y2="53.8" stroke="#111" stroke-width="0.9"/>
<line x1="398.5" y1="47" x2="401" y2="47" stroke="#111" stroke-width="0.9"/>
<line x1="398.5" y1="40.2" x2="401" y2="40.2" stroke="#111" stroke-width="0.9"/>
<line x1="396.5" y1="33.4" x2="401" y2="33.4" stroke="#111" stroke-width="0.9"/>
<text x="382.8" y="37.64" font-size="12.8" textLength="11.5" lengthAdjust="spacingAndGlyphs">10</text>
<line x1="398.5" y1="26.6" x2="401" y2="26.6" stroke="#111" stroke-width="0.9"/>
<line x1="398.5" y1="19.8" x2="401" y2="19.8" stroke="#111" stroke-width="0.9"/>
<line x1="398.5" y1="13" x2="401" y2="13" stroke="#111" stroke-width="0.9"/>
<line x1="396.5" y1="6.2" x2="401" y2="6.2" stroke="#111" stroke-width="0.9"/>
<text x="382.8" y="10.44" font-size="12.8" textLength="11.5" lengthAdjust="spacingAndGlyphs">12</text>
<line x1="405.73" y1="172" x2="405.73" y2="176.6" stroke="#111" stroke-width="0.9"/>
<text x="404.03" y="187.3" text-anchor="middle" font-size="12.6">-15</text>
<line x1="415.41" y1="172" x2="415.41" y2="174.6" stroke="#111" stroke-width="0.9"/>
<line x1="425.08" y1="172" x2="425.08" y2="174.6" stroke="#111" stroke-width="0.9"/>
<line x1="434.75" y1="172" x2="434.75" y2="174.6" stroke="#111" stroke-width="0.9"/>
<line x1="444.42" y1="172" x2="444.42" y2="174.6" stroke="#111" stroke-width="0.9"/>
<line x1="454.09" y1="172" x2="454.09" y2="176.6" stroke="#111" stroke-width="0.9"/>
<text x="452.39" y="187.3" text-anchor="middle" font-size="12.6">-10</text>
<line x1="463.76" y1="172" x2="463.76" y2="174.6" stroke="#111" stroke-width="0.9"/>
<line x1="473.43" y1="172" x2="473.43" y2="174.6" stroke="#111" stroke-width="0.9"/>
<line x1="483.1" y1="172" x2="483.1" y2="174.6" stroke="#111" stroke-width="0.9"/>
<line x1="492.77" y1="172" x2="492.77" y2="174.6" stroke="#111" stroke-width="0.9"/>
<line x1="502.44" y1="172" x2="502.44" y2="176.6" stroke="#111" stroke-width="0.9"/>
<text x="500.74" y="187.3" text-anchor="middle" font-size="12.6">-5</text>
<line x1="512.12" y1="172" x2="512.12" y2="174.6" stroke="#111" stroke-width="0.9"/>
<line x1="521.79" y1="172" x2="521.79" y2="174.6" stroke="#111" stroke-width="0.9"/>
<line x1="531.46" y1="172" x2="531.46" y2="174.6" stroke="#111" stroke-width="0.9"/>
<line x1="541.13" y1="172" x2="541.13" y2="174.6" stroke="#111" stroke-width="0.9"/>
<line x1="550.8" y1="172" x2="550.8" y2="176.6" stroke="#111" stroke-width="0.9"/>
<text x="550.65" y="187.3" text-anchor="middle" font-size="12.6">0</text>
<line x1="560.47" y1="172" x2="560.47" y2="174.6" stroke="#111" stroke-width="0.9"/>
<line x1="570.14" y1="172" x2="570.14" y2="174.6" stroke="#111" stroke-width="0.9"/>
<line x1="579.81" y1="172" x2="579.81" y2="174.6" stroke="#111" stroke-width="0.9"/>
<line x1="589.48" y1="172" x2="589.48" y2="174.6" stroke="#111" stroke-width="0.9"/>
<line x1="599.15" y1="172" x2="599.15" y2="176.6" stroke="#111" stroke-width="0.9"/>
<text x="599" y="187.3" text-anchor="middle" font-size="12.6">5</text>
<line x1="608.83" y1="172" x2="608.83" y2="174.6" stroke="#111" stroke-width="0.9"/>
<line x1="618.5" y1="172" x2="618.5" y2="174.6" stroke="#111" stroke-width="0.9"/>
<line x1="626.5" y1="13.5" x2="630.5" y2="13.5" stroke="#ff0000" stroke-width="1.5"/>
<text x="633.3" y="16" font-size="12.6" textLength="32.7" lengthAdjust="spacingAndGlyphs">Donor</text>
<line x1="626.5" y1="26.8" x2="630.5" y2="26.8" stroke="#008000" stroke-width="1.5"/>
<text x="633.3" y="29.3" font-size="12.6" textLength="45.2" lengthAdjust="spacingAndGlyphs"><tspan font-style="italic">π</tspan>-spacer</text>
<line x1="626.5" y1="40.3" x2="630.5" y2="40.3" stroke="#0000ff" stroke-width="1.5"/>
<text x="633.3" y="42.8" font-size="12.6" textLength="47.2" lengthAdjust="spacingAndGlyphs">Acceptor</text>
<line x1="626.5" y1="53.6" x2="630.5" y2="53.6" stroke="#000000" stroke-width="1.5"/>
<text x="633.3" y="56.1" font-size="12.6" textLength="27" lengthAdjust="spacingAndGlyphs">Total</text>
<text transform="translate(362.5,94.4) rotate(-90)" text-anchor="middle" font-size="15.3" textLength="110.8" lengthAdjust="spacingAndGlyphs">Relative Intensity</text>
<text x="481.4" y="210.4" font-size="13.6" textLength="75" lengthAdjust="spacingAndGlyphs">Energy <tspan font-style="italic">(eV)</tspan></text>
<text x="489" y="242.6" font-size="17.5" textLength="55.7" lengthAdjust="spacingAndGlyphs">TPBD2</text>
<path d="M54.07,401.14 C54.6,398.88 55.13,395.86 55.66,394.35 C56.18,392.85 56.71,392.09 57.24,392.09 C57.84,392.09 58.45,393.6 59.05,395.48 C59.65,397.37 60.26,400.79 60.86,403.4 C61.39,405.68 61.92,409.43 62.44,410.18 C62.97,410.93 63.5,411.31 64.03,411.31 C64.63,411.31 65.23,404.63 65.84,401.14 C66.59,396.77 67.35,389.83 68.1,387.57 C68.85,385.31 69.61,384.18 70.36,384.18 C71.12,384.18 71.87,387.01 72.62,388.7 C73.38,390.4 74.13,393.6 74.89,394.35 C75.64,395.11 76.4,395.48 77.15,395.48 C77.75,395.48 78.36,388.14 78.96,383.05 C79.56,377.96 80.17,370.53 80.77,364.96 C81.3,360.09 81.83,354.2 82.35,351.4 C82.73,349.39 83.11,348 83.48,348 C84.01,348 84.54,351.96 85.07,355.92 C85.6,359.87 86.12,367.08 86.65,371.74 C87.25,377.07 87.86,383.05 88.46,385.31 C89.06,387.57 89.67,388.7 90.27,388.7 C91.03,388.7 91.78,385.31 92.53,383.05 C93.29,380.79 94.04,377.17 94.8,375.14 C95.32,373.71 95.85,371.74 96.38,371.74 C96.91,371.74 97.44,375.47 97.96,378.53 C98.57,382.02 99.17,388.51 99.77,392.09 C100.53,396.57 101.28,398.12 102.04,401.14 C102.79,404.15 103.54,406.75 104.3,410.18 C104.9,412.93 105.51,416.44 106.11,419.22 C106.64,421.66 107.16,426.01 107.69,426.01 C108.45,426.01 109.2,423.51 109.95,422.62 C110.94,421.46 111.92,420.36 112.9,420.36 C113.8,420.36 114.71,421.53 115.61,422.62 C116.37,423.52 117.12,425.07 117.87,426.01 C118.63,426.95 119.38,428.27 120.14,428.27 C120.89,428.27 121.64,428.27 122.4,428.27 C123.15,428.27 123.91,427.57 124.66,427.14 C125.79,426.5 126.92,425.44 128.05,424.88 C129.19,424.31 130.32,424.02 131.45,423.75 C132.35,423.53 133.26,423.29 134.16,423.29 C134.77,423.29 135.37,426.57 135.97,428.27 C136.73,430.39 137.48,434.83 138.24,434.83 C138.84,434.83 139.44,432.72 140.05,431.89 C140.57,431.17 141.09,430.08 141.61,430.08 C142.13,430.08 142.65,433.56 143.17,435.05 C143.77,436.78 144.37,438.82 144.97,439.57 C145.58,440.33 146.18,440.67 146.78,440.7 C154.32,441.16 161.85,441.38 169.39,441.38 C170.14,441.38 170.9,440.82 171.65,440.48 C172.4,440.14 173.16,439.5 173.91,439.35 C174.66,439.2 175.42,439.12 176.17,439.12 C177.53,439.12 178.88,439.8 180.24,440.03 C181.9,440.3 183.56,440.36 185.21,440.48 C186.87,440.59 188.53,440.7 190.19,440.7 C190.94,440.7 191.7,438.65 192.45,437.31 C193.05,436.24 193.65,433.7 194.26,433.7 C194.78,433.7 195.31,434.29 195.84,434.6 C196.29,434.87 196.74,435.19 197.2,435.44 C198.37,436.07 199.55,436.63 200.72,436.63 C201.7,436.63 202.67,436.41 203.64,435.96 C204.05,435.76 204.47,431.36 204.88,428.27 C205.26,425.46 205.64,418.55 206.01,418.55 C206.62,418.55 207.22,418.98 207.82,419.22 C208.58,419.54 209.33,419.89 210.08,420.26 C210.84,420.64 211.59,421.1 212.34,421.49 C213.14,421.89 213.94,422.62 214.74,422.62 C215.45,422.62 216.16,415.4 216.86,410.18 C217.32,406.85 217.77,402.17 218.22,398.88 C218.6,396.13 218.97,394.04 219.35,391.64 C219.8,388.76 220.26,385.58 220.71,383.05 C221.08,380.94 221.46,377.4 221.84,377.4 C222.44,377.4 223.04,380.41 223.65,381.92 C224.25,383.43 224.85,385.58 225.46,386.44 C225.98,387.19 226.51,387.57 227.04,387.57 C227.57,387.57 228.09,383.22 228.62,380.79 C229.22,378 229.83,374.22 230.43,371.74 C231.18,368.65 231.94,366.47 232.69,364.96 C233.44,363.45 234.2,362.7 234.95,362.7 C235.7,362.7 236.46,363.58 237.21,364.96 C237.81,366.07 238.42,368.38 239.02,369.48 C239.77,370.86 240.53,371.74 241.28,371.74 C242.03,371.74 242.79,370.24 243.54,369.48 C244.29,368.73 245.05,367.85 245.8,367.22 C246.33,366.78 246.86,366.09 247.38,366.09 C248.14,366.09 248.89,369.16 249.65,370.61 C250.25,371.78 250.85,374.01 251.45,374.01 C251.98,374.01 252.51,371.02 253.04,369.48 C253.79,367.29 254.54,362.7 255.3,362.7 C255.9,362.7 256.5,365.14 257.11,367.22 C257.63,369.04 258.16,373.48 258.69,374.01 C259.44,374.76 260.2,375.14 260.95,375.14 C261.7,375.14 262.46,374.57 263.21,374.01 C263.96,373.44 264.72,372.69 265.47,371.74 C266.22,370.8 266.98,368.35 267.73,368.35 C268.26,368.35 268.79,370.29 269.31,374.01 C269.77,377.19 270.22,383.35 270.67,387.57 C271.2,392.5 271.72,396.18 272.25,401.14 C272.63,404.68 273.01,408.67 273.38,412.44" fill="none" stroke="#008000" stroke-width="1.0" stroke-linejoin="round"/>
<path d="M54.07,415.83 C54.6,413.2 55.13,409.99 55.66,407.92 C56.18,405.85 56.71,403.4 57.24,403.4 C57.84,403.4 58.45,406.41 59.05,407.92 C59.65,409.43 60.26,412.44 60.86,412.44 C61.39,412.44 61.92,411.69 62.44,410.18 C62.97,408.67 63.5,401.18 64.03,396.61 C64.63,391.4 65.23,380.79 65.84,380.79 C66.44,380.79 67.04,382.3 67.65,385.31 C68.17,387.95 68.7,396.95 69.23,401.14 C69.98,407.12 70.74,410.93 71.49,412.44 C72.25,413.95 73,414.7 73.76,414.7 C74.51,414.7 75.26,413.57 76.02,413.57 C76.77,413.57 77.53,415.83 78.28,415.83 C79.03,415.83 79.79,412.25 80.54,410.18 C81.3,408.11 82.05,404.15 82.81,403.4 C83.56,402.64 84.31,402.95 85.07,402.27 C85.82,401.59 86.58,399.33 87.33,399.33 C88.08,399.33 88.84,402.34 89.59,403.4 C90.35,404.45 91.1,404.53 91.86,405.66 C92.61,406.79 93.36,407.92 94.12,410.18 C94.87,412.44 95.63,416.21 96.38,419.22 C97.13,422.24 97.89,426.01 98.64,428.27 C99.4,430.53 100.15,432.79 100.9,432.79 C101.66,432.79 102.41,428.08 103.17,426.01 C103.92,423.94 104.68,421.67 105.43,420.36 C106.18,419.04 106.94,418.09 107.69,418.09 C108.45,418.09 109.2,423.75 109.95,426.01 C110.71,428.27 111.46,430.34 112.22,431.66 C112.97,432.98 113.73,433.92 114.48,433.92 C115.23,433.92 115.99,432.79 116.74,432.79 C117.5,432.79 118.25,435.05 119,435.05 C119.76,435.05 120.51,430.72 121.27,428.27 C122.02,425.82 122.78,422.43 123.53,420.36 C124.28,418.28 125.04,415.83 125.79,415.83 C126.32,415.83 126.85,419.56 127.38,421.49 C127.98,423.69 128.58,426.21 129.19,428.27 C129.94,430.84 130.69,433.36 131.45,435.05 C132.2,436.75 132.96,437.94 133.71,438.44 C134.84,439.2 135.97,439.2 137.1,439.57 C138.24,439.95 139.37,440.55 140.5,440.7 C142.67,441.01 144.84,441.16 147.01,441.16 C147.69,441.16 148.36,438.38 149.04,436.63 C149.65,435.09 150.25,432.62 150.85,431.43 C151.34,430.47 151.83,429.63 152.32,429.63 C152.89,429.63 153.45,431.7 154.02,433.24 C154.62,434.89 155.22,438.06 155.83,439.35 C156.39,440.55 156.96,441.13 157.52,441.16 C161.48,441.31 165.43,441.38 169.39,441.38 C170.9,441.38 172.4,441.38 173.91,441.38 C176.17,441.38 178.43,440.7 180.69,440.7 C182.2,440.7 183.71,441.16 185.21,441.16 C187.48,441.16 189.74,441.01 192,440.7 C194.26,440.4 196.52,440 198.78,439.35 C199.91,439.02 201.04,438.97 202.17,438.22 C202.7,437.87 203.22,437.54 203.75,436.18 C204.2,435.02 204.66,430.39 205.11,428.27 C205.6,425.97 206.09,424.77 206.58,423.18 C207.14,421.35 207.71,419.26 208.27,418.09 C208.88,416.85 209.48,416.17 210.08,416.17 C210.69,416.17 211.29,417.07 211.89,418.09 C212.46,419.06 213.02,420.55 213.59,422.01 C214.3,423.85 215.02,426.68 215.73,428.27 C216.37,429.69 217.02,431.34 217.66,431.34 C218.15,431.34 218.64,427.96 219.13,426.46 C219.58,425.07 220.03,423.89 220.48,422.62 C221.16,420.71 221.84,419.97 222.52,416.96 C223.04,414.63 223.57,410.14 224.1,407.92 C224.7,405.38 225.3,404.5 225.91,403.4 C226.66,402.02 227.41,401.73 228.17,401.14 C228.77,400.66 229.37,400.01 229.98,400.01 C230.5,400.01 231.03,402.08 231.56,403.4 C232.09,404.72 232.61,406.5 233.14,407.92 C233.74,409.54 234.35,412.44 234.95,412.44 C235.55,412.44 236.16,408.55 236.76,405.66 C237.29,403.13 237.81,399.63 238.34,396.61 C238.87,393.6 239.4,389.33 239.92,387.57 C240.38,386.06 240.83,385.31 241.28,385.31 C241.81,385.31 242.34,389.46 242.86,392.09 C243.39,394.73 243.92,398.8 244.45,401.14 C244.9,403.14 245.35,405.66 245.8,405.66 C246.56,405.66 247.31,402.64 248.06,401.14 C248.82,399.63 249.57,397.74 250.32,396.61 C250.85,395.83 251.38,394.81 251.91,394.81 C252.66,394.81 253.41,395.75 254.17,396.61 C254.92,397.48 255.67,399.25 256.43,400.01 C257.18,400.76 257.93,400.57 258.69,401.14 C259.44,401.7 260.2,402.77 260.95,403.4 C261.48,403.84 262,404.53 262.53,404.53 C263.28,404.53 264.04,403.13 264.79,402.27 C265.39,401.58 266,400.01 266.6,400.01 C267.2,400.01 267.81,402.18 268.41,403.4 C268.94,404.46 269.46,405.28 269.99,406.79 C270.52,408.3 271.05,409.2 271.57,412.44 C272.03,415.22 272.48,419.98 272.93,423.75" fill="none" stroke="#ff0000" stroke-width="1.0" stroke-linejoin="round"/>
<path d="M54.07,427.14 C54.6,422.99 55.13,418.09 55.66,414.7 C56.18,411.31 56.71,407.67 57.24,406.79 C57.69,406.04 58.14,405.66 58.6,405.66 C59.13,405.66 59.65,411.69 60.18,414.7 C60.71,417.72 61.24,421.52 61.76,423.75 C62.37,426.29 62.97,427.52 63.57,428.27 C64.18,429.02 64.78,429.4 65.38,429.4 C66.14,429.4 66.89,426.91 67.65,426.01 C68.55,424.93 69.46,423.75 70.36,423.75 C71.12,423.75 71.87,424.88 72.62,424.88 C73.38,424.88 74.13,424.31 74.89,423.75 C75.64,423.18 76.4,422.99 77.15,421.49 C77.75,420.28 78.36,413.57 78.96,413.57 C79.49,413.57 80.02,417.15 80.54,419.22 C81.07,421.3 81.6,424.49 82.13,426.01 C82.58,427.31 83.03,428.27 83.48,428.27 C84.39,428.27 85.29,419.72 86.2,414.7 C86.95,410.52 87.71,404.91 88.46,401.14 C89.22,397.37 89.97,394.74 90.72,392.09 C91.33,389.97 91.93,386.44 92.53,386.44 C93.06,386.44 93.59,388.3 94.12,389.83 C94.87,392.02 95.63,394.47 96.38,398.88 C96.91,401.96 97.44,406.32 97.96,410.18 C98.57,414.59 99.17,419.6 99.77,423.75 C100.38,427.89 100.98,432.98 101.58,435.05 C102.11,436.86 102.64,437.76 103.17,437.76 C103.92,437.76 104.68,436.63 105.43,435.05 C106.18,433.47 106.94,430.15 107.69,428.27 C108.45,426.38 109.2,423.75 109.95,423.75 C110.71,423.75 111.46,424.5 112.22,424.88 C112.97,425.25 113.73,425.44 114.48,426.01 C115.23,426.57 115.99,427.14 116.74,428.27 C117.5,429.4 118.25,431.28 119,432.79 C119.76,434.3 120.51,436.11 121.27,437.31 C122.02,438.52 122.78,440.03 123.53,440.03 C124.66,440.03 125.79,440.03 126.92,440.03 C128.05,440.03 129.19,439.57 130.32,439.57 C131.07,439.57 131.83,439.86 132.58,440.03 C133.71,440.28 134.84,440.9 135.97,440.93 C147.11,441.23 158.25,441.38 169.39,441.38 C170.11,441.38 170.82,441.31 171.54,441.16 C172.18,441.02 172.82,436.67 173.46,435.05 C173.99,433.72 174.51,431.89 175.04,431.89 C175.57,431.89 176.1,435.31 176.62,436.18 C177.26,437.24 177.9,437.76 178.55,437.76 C179.26,437.76 179.98,434.38 180.69,433.24 C181.52,431.92 182.35,430.76 183.18,430.76 C183.63,430.76 184.08,432.16 184.54,432.79 C185.06,433.53 185.59,434.83 186.12,434.83 C186.72,434.83 187.32,432.07 187.93,430.98 C188.49,429.96 189.06,428.43 189.62,428.43 C190.26,428.43 190.9,432.02 191.54,433.24 C192.27,434.63 192.99,435.96 193.71,435.96 C194.27,435.96 194.83,435.88 195.39,435.73 C195.8,435.62 196.22,435.43 196.63,434.83 C197.12,434.11 197.61,430.12 198.1,428.27 C198.59,426.42 199.08,423.75 199.57,423.75 C200.06,423.75 200.55,427.22 201.04,429.4 C201.49,431.41 201.94,434.46 202.4,436.18 C202.81,437.76 203.22,439.57 203.64,439.57 C204.62,439.57 205.6,439.57 206.58,439.57 C207.37,439.57 208.16,435.11 208.95,432.79 C209.71,430.58 210.46,427.6 211.21,426.01 C212,424.33 212.8,423.18 213.59,423.18 C214.3,423.18 215.02,424.83 215.73,426.01 C216.49,427.25 217.24,428.95 218,430.53 C218.75,432.11 219.5,434.18 220.26,435.5 C221.01,436.82 221.76,438.44 222.52,438.44 C223.27,438.44 224.02,434.49 224.78,432.79 C225.53,431.09 226.28,429.52 227.04,428.27 C227.57,427.39 228.09,426.01 228.62,426.01 C229.22,426.01 229.83,428.27 230.43,428.27 C231.18,428.27 231.94,425.46 232.69,423.75 C233.29,422.37 233.9,420.48 234.5,419.22 C235.03,418.13 235.55,416.51 236.08,416.51 C236.83,416.51 237.59,417.64 238.34,418.09 C239.1,418.55 239.85,418.47 240.6,419.22 C241.13,419.75 241.66,420.16 242.18,421.49 C242.79,423 243.39,426.38 243.99,428.27 C244.6,430.15 245.2,432.79 245.8,432.79 C246.56,432.79 247.31,429.66 248.06,428.27 C248.97,426.6 249.87,425.17 250.78,423.75 C251.53,422.56 252.28,420.36 253.04,420.36 C253.64,420.36 254.24,422.3 254.84,423.75 C255.37,425.01 255.9,426.84 256.43,428.27 C256.95,429.7 257.48,432.34 258.01,432.34 C258.76,432.34 259.52,431.4 260.27,430.53 C261.02,429.66 261.78,428.03 262.53,427.14 C263.51,425.98 264.49,424.88 265.47,424.88 C266.22,424.88 266.98,425.44 267.73,426.01 C268.48,426.57 269.24,427.01 269.99,428.27 C270.52,429.15 271.05,430.6 271.57,431.66 C272.18,432.88 272.78,433.92 273.38,435.05" fill="none" stroke="#0000ff" stroke-width="1.0" stroke-linejoin="round"/>
<path d="M54.07,380.79 C54.37,372.5 54.68,363.3 54.98,355.92 C55.43,344.84 55.88,334.6 56.33,328.79 C56.86,322 57.39,318.61 57.92,318.61 C58.45,318.61 58.97,323.43 59.5,328.79 C59.95,333.37 60.41,342.43 60.86,346.87 C61.39,352.05 61.92,355.92 62.44,355.92 C62.97,355.92 63.5,350.33 64.03,346.87 C64.63,342.93 65.23,337.03 65.84,333.31 C66.59,328.66 67.35,323.13 68.1,323.13 C68.7,323.13 69.31,327.98 69.91,331.05 C70.44,333.73 70.97,337.67 71.49,340.09 C72.25,343.55 73,346.12 73.76,346.87 C74.51,347.63 75.26,348 76.02,348 C76.55,348 77.07,342.1 77.6,337.83 C78.21,332.95 78.81,325.77 79.41,319.74 C80.02,313.71 80.62,305.85 81.22,301.65 C81.75,297.99 82.28,294.87 82.81,294.87 C83.56,294.87 84.31,296.38 85.07,297.13 C85.82,297.89 86.58,297.89 87.33,299.39 C88.08,300.9 88.84,308.44 89.59,308.44 C90.12,308.44 90.65,302.44 91.18,299.39 C91.63,296.78 92.08,293.16 92.53,291.48 C93.06,289.52 93.59,288.54 94.12,288.54 C94.72,288.54 95.32,289.9 95.93,292.61 C96.46,294.98 96.98,297.44 97.51,303.91 C97.96,309.46 98.42,318.99 98.87,326.52 C99.32,334.06 99.77,341.6 100.23,349.13 C100.68,356.67 101.13,365.6 101.58,371.74 C102.11,378.91 102.64,386.52 103.17,387.57 C103.92,389.08 104.68,389.83 105.43,389.83 C106.18,389.83 106.94,386.44 107.69,386.44 C108.45,386.44 109.2,391.72 109.95,393.22 C110.71,394.73 111.46,394.54 112.22,395.48 C112.97,396.43 113.73,397.78 114.48,398.88 C115.01,399.65 115.54,399.84 116.06,401.14 C116.52,402.25 116.97,403.65 117.42,405.66 C117.95,408 118.48,411.88 119,414.7 C119.53,417.53 120.06,422.62 120.59,422.62 C121.19,422.62 121.79,415.67 122.4,412.44 C123.15,408.41 123.91,401.14 124.66,401.14 C125.26,401.14 125.87,404.04 126.47,405.66 C127,407.08 127.53,408.86 128.05,410.18 C128.81,412.07 129.56,413.57 130.32,414.7 C131.07,415.83 131.83,416.02 132.58,416.96 C133.11,417.62 133.63,417.72 134.16,419.22 C134.62,420.52 135.07,424.04 135.52,426.01 C136.05,428.3 136.58,431.21 137.1,431.66 C137.63,432.11 138.16,432.34 138.69,432.34 C139.14,432.34 139.59,431.54 140.05,430.98 C140.61,430.29 141.18,428.43 141.74,428.43 C142.29,428.43 142.84,432.02 143.39,433.92 C143.92,435.74 144.45,438.69 144.97,439.57 C145.65,440.7 146.33,441.27 147.01,441.27 C147.69,441.27 148.36,438.01 149.04,436.18 C149.65,434.56 150.25,432.22 150.85,430.98 C151.32,430.03 151.79,429.01 152.25,429.01 C152.84,429.01 153.43,431.14 154.02,432.79 C154.62,434.49 155.22,437.69 155.83,439.12 C156.39,440.47 156.96,441.38 157.52,441.38 C161.48,441.38 165.43,441.38 169.39,441.38 C170.14,441.38 170.9,440.06 171.65,438.44 C172.4,436.82 173.16,433.44 173.91,431.66 C174.48,430.31 175.06,428.43 175.63,428.43 C176.19,428.43 176.74,432.31 177.3,433.92 C177.9,435.66 178.51,438.35 179.11,438.35 C179.79,438.35 180.47,433.24 181.15,431.66 C181.75,430.26 182.35,429.01 182.95,429.01 C183.48,429.01 184.01,431.72 184.54,432.79 C185.06,433.86 185.59,435.44 186.12,435.44 C186.57,435.44 187.02,432.27 187.48,430.98 C188,429.48 188.53,427.55 189.06,427.27 C189.81,426.88 190.56,426.69 191.32,426.69 C192.67,426.69 194.03,427.27 195.39,427.27 C195.92,427.27 196.44,425.47 196.97,423.75 C197.42,422.27 197.87,419.47 198.33,418.09 C198.74,416.84 199.16,415.61 199.57,415.61 C200.06,415.61 200.55,419.73 201.04,421.49 C201.52,423.22 202,426.1 202.49,426.1 C202.91,426.1 203.33,421.9 203.75,419.22 C204.3,415.74 204.85,411.1 205.4,406.83 C205.83,403.51 206.26,399.56 206.69,396.61 C207.44,391.44 208.2,387.86 208.95,385.31 C209.93,381.99 210.91,380.34 211.89,380.34 C212.42,380.34 212.95,383.35 213.47,385.31 C214,387.27 214.53,391.21 215.06,392.09 C215.51,392.85 215.96,393.22 216.41,393.22 C216.94,393.22 217.47,383.24 218,378.53 C218.52,373.82 219.05,368.14 219.58,364.96 C220.18,361.33 220.78,361 221.39,359.31 C221.99,357.61 222.59,356.64 223.19,354.79 C223.72,353.17 224.25,351.96 224.78,349.13 C225.3,346.31 225.83,341.69 226.36,337.83 C226.96,333.42 227.57,328.03 228.17,324.26 C228.77,320.5 229.37,317.55 229.98,315.22 C230.5,313.18 231.03,311.23 231.56,310.7 C232.31,309.94 233.07,309.94 233.82,309.57 C234.57,309.19 235.33,309.19 236.08,308.44 C236.61,307.91 237.14,307.03 237.66,305.05 C238.27,302.77 238.87,297.14 239.47,294.87 C240,292.88 240.53,291.48 241.05,291.48 C241.66,291.48 242.26,294.95 242.86,299.39 C243.39,303.28 243.92,311.6 244.45,315.22 C244.9,318.32 245.35,320.87 245.8,320.87 C246.33,320.87 246.86,316.65 247.38,315.22 C248.14,313.17 248.89,313.71 249.65,311.83 C250.4,309.94 251.15,306.06 251.91,303.91 C252.66,301.77 253.41,298.94 254.17,298.94 C254.69,298.94 255.22,301.18 255.75,303.91 C256.35,307.04 256.95,313.9 257.56,317.48 C258.31,321.96 259.06,326.52 259.82,326.52 C260.42,326.52 261.02,326.37 261.63,326.07 C262.38,325.7 263.13,320.07 263.89,317.48 C264.57,315.15 265.24,311.15 265.92,311.15 C266.53,311.15 267.13,311.75 267.73,312.96 C268.26,314.01 268.79,315.22 269.31,319.74 C269.77,323.62 270.22,330.16 270.67,337.83 C271.05,344.22 271.42,353.66 271.8,360.44 C272.18,367.22 272.55,373.49 272.93,378.53 C273.23,382.56 273.53,385.31 273.83,388.7" fill="none" stroke="#000000" stroke-width="1.0" stroke-linejoin="round"/>
<rect x="51.6" y="270.2" width="224.5" height="174.4" fill="none" stroke="#000" stroke-width="1.6"/>
<line x1="47.1" y1="441.5" x2="51.6" y2="441.5" stroke="#111" stroke-width="0.9"/>
<text x="40.3" y="445.74" font-size="12.8" textLength="5.3" lengthAdjust="spacingAndGlyphs">0</text>
<line x1="49.1" y1="434.5" x2="51.6" y2="434.5" stroke="#111" stroke-width="0.9"/>
<line x1="49.1" y1="427.5" x2="51.6" y2="427.5" stroke="#111" stroke-width="0.9"/>
<line x1="49.1" y1="420.5" x2="51.6" y2="420.5" stroke="#111" stroke-width="0.9"/>
<line x1="47.1" y1="413.5" x2="51.6" y2="413.5" stroke="#111" stroke-width="0.9"/>
<text x="40.3" y="417.74" font-size="12.8" textLength="5.3" lengthAdjust="spacingAndGlyphs">2</text>
<line x1="49.1" y1="406.5" x2="51.6" y2="406.5" stroke="#111" stroke-width="0.9"/>
<line x1="49.1" y1="399.5" x2="51.6" y2="399.5" stroke="#111" stroke-width="0.9"/>
<line x1="49.1" y1="392.5" x2="51.6" y2="392.5" stroke="#111" stroke-width="0.9"/>
<line x1="47.1" y1="385.5" x2="51.6" y2="385.5" stroke="#111" stroke-width="0.9"/>
<text x="40.3" y="389.74" font-size="12.8" textLength="5.3" lengthAdjust="spacingAndGlyphs">4</text>
<line x1="49.1" y1="378.5" x2="51.6" y2="378.5" stroke="#111" stroke-width="0.9"/>
<line x1="49.1" y1="371.5" x2="51.6" y2="371.5" stroke="#111" stroke-width="0.9"/>
<line x1="49.1" y1="364.5" x2="51.6" y2="364.5" stroke="#111" stroke-width="0.9"/>
<line x1="47.1" y1="357.5" x2="51.6" y2="357.5" stroke="#111" stroke-width="0.9"/>
<text x="40.3" y="361.74" font-size="12.8" textLength="5.3" lengthAdjust="spacingAndGlyphs">6</text>
<line x1="49.1" y1="350.5" x2="51.6" y2="350.5" stroke="#111" stroke-width="0.9"/>
<line x1="49.1" y1="343.5" x2="51.6" y2="343.5" stroke="#111" stroke-width="0.9"/>
<line x1="49.1" y1="336.5" x2="51.6" y2="336.5" stroke="#111" stroke-width="0.9"/>
<line x1="47.1" y1="329.5" x2="51.6" y2="329.5" stroke="#111" stroke-width="0.9"/>
<text x="40.3" y="333.74" font-size="12.8" textLength="5.3" lengthAdjust="spacingAndGlyphs">8</text>
<line x1="49.1" y1="322.5" x2="51.6" y2="322.5" stroke="#111" stroke-width="0.9"/>
<line x1="49.1" y1="315.5" x2="51.6" y2="315.5" stroke="#111" stroke-width="0.9"/>
<line x1="49.1" y1="308.5" x2="51.6" y2="308.5" stroke="#111" stroke-width="0.9"/>
<line x1="47.1" y1="301.5" x2="51.6" y2="301.5" stroke="#111" stroke-width="0.9"/>
<text x="33.5" y="305.74" font-size="12.8" textLength="11.5" lengthAdjust="spacingAndGlyphs">10</text>
<line x1="49.1" y1="294.5" x2="51.6" y2="294.5" stroke="#111" stroke-width="0.9"/>
<line x1="49.1" y1="287.5" x2="51.6" y2="287.5" stroke="#111" stroke-width="0.9"/>
<line x1="49.1" y1="280.5" x2="51.6" y2="280.5" stroke="#111" stroke-width="0.9"/>
<line x1="47.1" y1="273.5" x2="51.6" y2="273.5" stroke="#111" stroke-width="0.9"/>
<text x="33.5" y="277.74" font-size="12.8" textLength="11.5" lengthAdjust="spacingAndGlyphs">12</text>
<line x1="56.55" y1="444.6" x2="56.55" y2="449.2" stroke="#111" stroke-width="0.9"/>
<text x="54.85" y="459.9" text-anchor="middle" font-size="12.6">-15</text>
<line x1="66.39" y1="444.6" x2="66.39" y2="447.2" stroke="#111" stroke-width="0.9"/>
<line x1="76.23" y1="444.6" x2="76.23" y2="447.2" stroke="#111" stroke-width="0.9"/>
<line x1="86.07" y1="444.6" x2="86.07" y2="447.2" stroke="#111" stroke-width="0.9"/>
<line x1="95.91" y1="444.6" x2="95.91" y2="447.2" stroke="#111" stroke-width="0.9"/>
<line x1="105.75" y1="444.6" x2="105.75" y2="449.2" stroke="#111" stroke-width="0.9"/>
<text x="104.05" y="459.9" text-anchor="middle" font-size="12.6">-10</text>
<line x1="115.59" y1="444.6" x2="115.59" y2="447.2" stroke="#111" stroke-width="0.9"/>
<line x1="125.43" y1="444.6" x2="125.43" y2="447.2" stroke="#111" stroke-width="0.9"/>
<line x1="135.27" y1="444.6" x2="135.27" y2="447.2" stroke="#111" stroke-width="0.9"/>
<line x1="145.11" y1="444.6" x2="145.11" y2="447.2" stroke="#111" stroke-width="0.9"/>
<line x1="154.95" y1="444.6" x2="154.95" y2="449.2" stroke="#111" stroke-width="0.9"/>
<text x="153.25" y="459.9" text-anchor="middle" font-size="12.6">-5</text>
<line x1="164.79" y1="444.6" x2="164.79" y2="447.2" stroke="#111" stroke-width="0.9"/>
<line x1="174.63" y1="444.6" x2="174.63" y2="447.2" stroke="#111" stroke-width="0.9"/>
<line x1="184.47" y1="444.6" x2="184.47" y2="447.2" stroke="#111" stroke-width="0.9"/>
<line x1="194.31" y1="444.6" x2="194.31" y2="447.2" stroke="#111" stroke-width="0.9"/>
<line x1="204.15" y1="444.6" x2="204.15" y2="449.2" stroke="#111" stroke-width="0.9"/>
<text x="204" y="459.9" text-anchor="middle" font-size="12.6">0</text>
<line x1="213.99" y1="444.6" x2="213.99" y2="447.2" stroke="#111" stroke-width="0.9"/>
<line x1="223.83" y1="444.6" x2="223.83" y2="447.2" stroke="#111" stroke-width="0.9"/>
<line x1="233.67" y1="444.6" x2="233.67" y2="447.2" stroke="#111" stroke-width="0.9"/>
<line x1="243.51" y1="444.6" x2="243.51" y2="447.2" stroke="#111" stroke-width="0.9"/>
<line x1="253.35" y1="444.6" x2="253.35" y2="449.2" stroke="#111" stroke-width="0.9"/>
<text x="253.2" y="459.9" text-anchor="middle" font-size="12.6">5</text>
<line x1="263.19" y1="444.6" x2="263.19" y2="447.2" stroke="#111" stroke-width="0.9"/>
<line x1="273.03" y1="444.6" x2="273.03" y2="447.2" stroke="#111" stroke-width="0.9"/>
<line x1="276.9" y1="284.6" x2="280.9" y2="284.6" stroke="#ff0000" stroke-width="1.5"/>
<text x="283.2" y="287.1" font-size="12.6" textLength="32.7" lengthAdjust="spacingAndGlyphs">Donor</text>
<line x1="276.9" y1="298.4" x2="280.9" y2="298.4" stroke="#008000" stroke-width="1.5"/>
<text x="283.2" y="300.9" font-size="12.6" textLength="45.2" lengthAdjust="spacingAndGlyphs"><tspan font-style="italic">π</tspan>-spacer</text>
<line x1="276.9" y1="312.1" x2="280.9" y2="312.1" stroke="#0000ff" stroke-width="1.5"/>
<text x="283.2" y="314.6" font-size="12.6" textLength="47.2" lengthAdjust="spacingAndGlyphs">Acceptor</text>
<line x1="276.9" y1="325.5" x2="280.9" y2="325.5" stroke="#000000" stroke-width="1.5"/>
<text x="283.2" y="328" font-size="12.6" textLength="27" lengthAdjust="spacingAndGlyphs">Total</text>
<text transform="translate(12.3,360.25) rotate(-90)" text-anchor="middle" font-size="15.3" textLength="117.3" lengthAdjust="spacingAndGlyphs">Relative Intensity</text>
<text x="132" y="487" font-size="13.6" textLength="74.9" lengthAdjust="spacingAndGlyphs">Energy <tspan font-style="italic">(eV)</tspan></text>
<text x="139" y="510.4" font-size="17.5" textLength="55.7" lengthAdjust="spacingAndGlyphs">TPBD3</text>
<path d="M407.07,405.66 C407.6,401.14 408.13,395.21 408.66,392.09 C409.03,389.87 409.41,387.57 409.79,387.57 C410.39,387.57 410.99,390.01 411.6,392.09 C412.13,393.91 412.65,396.99 413.18,398.88 C413.71,400.76 414.24,402.23 414.76,403.4 C415.22,404.4 415.67,405.66 416.12,405.66 C416.65,405.66 417.18,404.91 417.71,403.4 C418.23,401.89 418.76,399.36 419.29,396.61 C419.89,393.48 420.5,387.5 421.1,385.31 C421.48,383.94 421.85,383.05 422.23,383.05 C422.76,383.05 423.29,386.15 423.81,387.57 C424.42,389.19 425.02,390.96 425.62,392.09 C426.23,393.22 426.83,394.35 427.43,394.35 C428.19,394.35 428.94,387.95 429.7,383.05 C430.45,378.15 431.21,370.61 431.96,364.96 C432.49,361.01 433.02,356.77 433.54,353.66 C433.92,351.44 434.3,348 434.67,348 C435.28,348 435.88,351.93 436.48,355.92 C437.01,359.41 437.54,365.3 438.07,369.48 C438.82,375.46 439.58,381.55 440.33,385.31 C440.86,387.94 441.39,390.96 441.91,390.96 C442.52,390.96 443.12,387.7 443.72,385.31 C444.48,382.33 445.23,377.15 445.99,374.01 C446.59,371.49 447.19,367.67 447.8,367.67 C448.32,367.67 448.85,371.07 449.38,374.01 C449.91,376.94 450.44,381.76 450.96,385.31 C451.57,389.37 452.17,393.45 452.77,396.61 C453.53,400.57 454.28,402.64 455.04,405.66 C455.79,408.67 456.54,411.79 457.3,414.7 C457.9,417.03 458.51,420.62 459.11,421.49 C459.64,422.24 460.16,422.62 460.69,422.62 C461.45,422.62 462.2,419.98 462.95,419.22 C463.71,418.47 464.46,418.09 465.22,418.09 C465.97,418.09 466.73,420.54 467.48,421.49 C468.23,422.43 468.99,422.99 469.74,423.75 C470.5,424.5 471.25,426.01 472,426.01 C472.76,426.01 473.51,425.25 474.27,424.88 C475.02,424.5 475.78,424.12 476.53,423.75 C477.28,423.37 478.04,423.18 478.79,422.62 C479.55,422.05 480.3,420.94 481.05,420.36 C481.96,419.66 482.86,419 483.77,419 C484.6,419 485.43,421.94 486.26,423.75 C487.28,425.97 488.29,431.43 489.31,431.43 C489.95,431.43 490.59,429.38 491.24,428.27 C491.56,427.71 491.88,426.55 492.2,426.55 C492.7,426.55 493.21,429.09 493.71,430.53 C494.32,432.25 494.92,435.13 495.52,436.18 C496.12,437.24 496.73,437.73 497.33,437.76 C500.34,437.92 503.36,437.99 506.37,437.99 C512.93,437.99 519.49,437.99 526.04,437.99 C526.42,437.99 526.79,436.73 527.17,436.18 C527.77,435.3 528.38,433.92 528.98,433.92 C529.51,433.92 530.04,435.65 530.56,436.18 C531.32,436.94 532.07,437.31 532.82,437.31 C533.58,437.31 534.33,435.81 535.08,435.05 C535.84,434.3 536.59,432.79 537.34,432.79 C537.87,432.79 538.4,434.23 538.93,435.05 C539.38,435.76 539.83,437.31 540.28,437.31 C541.04,437.31 541.79,434.36 542.54,432.79 C543.07,431.69 543.6,429.4 544.13,429.4 C544.65,429.4 545.18,432.53 545.71,432.79 C546.31,433.09 546.92,433.24 547.52,433.24 C548.12,433.24 548.72,432.72 549.33,431.66 C549.85,430.74 550.38,428.08 550.91,426.01 C551.44,423.94 551.96,420.54 552.49,419.22 C553.09,417.72 553.7,417.52 554.3,416.96 C555.05,416.27 555.81,416.21 556.56,415.83 C557.31,415.46 558.07,414.7 558.82,414.7 C559.42,414.7 560.03,415.43 560.63,415.83 C561.16,416.19 561.69,416.96 562.21,416.96 C562.74,416.96 563.27,416.81 563.8,416.51 C564.4,416.17 565,405.96 565.6,401.14 C566.21,396.31 566.81,391.52 567.41,387.57 C567.94,384.12 568.47,380.6 569,378.53 C569.52,376.45 570.05,375.14 570.58,375.14 C571.18,375.14 571.78,377.21 572.39,378.53 C572.99,379.85 573.59,382.19 574.19,383.05 C574.72,383.8 575.25,384.18 575.78,384.18 C576.3,384.18 576.83,379.83 577.36,376.27 C577.96,372.2 578.57,364.69 579.17,360.44 C579.55,357.78 579.92,355.16 580.3,353.66 C580.68,352.15 581.05,351.4 581.43,351.4 C582.03,351.4 582.63,353.38 583.24,355.92 C583.77,358.14 584.29,362.7 584.82,364.96 C585.35,367.22 585.88,369.48 586.4,369.48 C587.16,369.48 587.91,367.22 588.66,367.22 C589.42,367.22 590.17,367.22 590.92,367.22 C591.53,367.22 592.13,365.86 592.73,364.96 C593.26,364.17 593.79,362.25 594.32,362.25 C594.92,362.25 595.52,365.76 596.12,367.22 C596.65,368.5 597.18,370.61 597.71,370.61 C598.31,370.61 598.91,366.53 599.51,364.96 C600.04,363.59 600.57,361.57 601.1,361.57 C601.7,361.57 602.3,365.51 602.91,367.22 C603.66,369.37 604.41,371.37 605.17,372.87 C605.92,374.38 606.67,376.27 607.43,376.27 C608.18,376.27 608.93,373.66 609.69,372.87 C610.22,372.33 610.74,371.74 611.27,371.74 C611.87,371.74 612.48,372.78 613.08,374.01 C613.83,375.53 614.59,378.72 615.34,380.79 C616.09,382.86 616.85,385.01 617.6,386.44 C618.35,387.87 619.11,389.38 619.86,389.38 C620.46,389.38 621.07,387.57 621.67,387.57 C622.2,387.57 622.72,389.46 623.25,392.09 C623.78,394.73 624.31,399.63 624.83,403.4" fill="none" stroke="#008000" stroke-width="1.0" stroke-linejoin="round"/>
<path d="M407.07,420.36 C407.37,416.96 407.68,412.82 407.98,410.18 C408.43,406.22 408.88,404.98 409.33,403.4 C409.64,402.34 409.94,401.14 410.24,401.14 C410.84,401.14 411.45,404.71 412.05,405.66 C412.43,406.25 412.8,406.79 413.18,406.79 C413.71,406.79 414.24,405.23 414.76,403.4 C415.37,401.3 415.97,397.37 416.57,394.35 C417.18,391.34 417.78,385.31 418.38,385.31 C418.91,385.31 419.44,385.69 419.97,386.44 C420.35,386.98 420.72,393.62 421.1,396.61 C421.7,401.4 422.31,405.24 422.91,407.92 C423.44,410.26 423.97,411.91 424.49,412.44 C425.25,413.2 426,413.57 426.76,413.57 C427.51,413.57 428.26,413.2 429.02,412.44 C429.77,411.69 430.53,407.54 431.28,405.66 C432.03,403.77 432.79,401.44 433.54,401.14 C434.3,400.84 435.05,400.87 435.81,400.68 C436.56,400.5 437.31,400.01 438.07,400.01 C438.82,400.01 439.58,400.01 440.33,400.01 C441.08,400.01 441.84,400.5 442.59,400.68 C443.35,400.87 444.1,400.84 444.86,401.14 C445.61,401.44 446.36,407.17 447.12,410.18 C447.87,413.2 448.63,416.59 449.38,419.22 C450.13,421.86 450.89,424.31 451.64,426.01 C452.4,427.7 453.15,429.4 453.9,429.4 C454.66,429.4 455.41,426.01 456.17,423.75 C456.92,421.49 457.68,415.83 458.43,415.83 C458.96,415.83 459.49,417.28 460.01,419.22 C460.47,420.89 460.92,424.19 461.37,426.01 C461.9,428.12 462.43,429.69 462.95,430.53 C463.71,431.74 464.46,432.34 465.22,432.34 C465.97,432.34 466.73,430.98 467.48,430.98 C468.23,430.98 468.99,432.34 469.74,432.34 C470.5,432.34 471.25,430.45 472,428.27 C472.76,426.08 473.51,422.05 474.27,419.22 C474.79,417.25 475.32,413.57 475.85,413.57 C476.45,413.57 477.06,414.89 477.66,416.96 C478.26,419.04 478.87,423.45 479.47,426.01 C480,428.24 480.53,430.23 481.05,431.66 C481.81,433.71 482.56,434.18 483.32,435.05 C484.07,435.92 484.83,436.66 485.58,436.86 C486.71,437.16 487.84,437.19 488.97,437.31 C491.62,437.6 494.26,437.76 496.9,437.76 C497.5,437.76 498.09,434.52 498.69,432.79 C499.21,431.26 499.74,429.18 500.27,428.04 C500.71,427.08 501.16,426.12 501.6,426.12 C502.14,426.12 502.67,429.71 503.21,431.43 C503.81,433.38 504.41,436.36 505.02,437.09 C505.51,437.69 506.01,437.99 506.51,437.99 C512.64,437.99 518.78,437.99 524.91,437.99 C528.68,437.99 532.45,437.9 536.21,437.76 C539.23,437.65 542.24,437.61 545.26,437.31 C546.61,437.18 547.97,436.94 549.33,436.18 C550.08,435.76 550.83,435.43 551.59,433.92 C552.11,432.87 552.64,428.83 553.17,426.01 C553.7,423.18 554.22,419.19 554.75,416.96 C555.36,414.42 555.96,413.39 556.56,412.44 C556.94,411.85 557.31,411.31 557.69,411.31 C558.22,411.31 558.75,413.18 559.27,414.7 C559.88,416.45 560.48,419.6 561.08,421.49 C561.69,423.37 562.29,426.01 562.89,426.01 C563.42,426.01 563.95,423.02 564.47,421.49 C565.23,419.29 565.98,416.96 566.73,414.7 C567.49,412.44 568.24,409.8 569,407.92 C569.75,406.04 570.5,404.53 571.26,403.4 C572.01,402.27 572.76,401.7 573.52,401.14 C574.27,400.57 575.02,400.01 575.78,400.01 C576.3,400.01 576.83,400.38 577.36,401.14 C577.96,402 578.57,404.53 579.17,405.66 C579.77,406.79 580.37,407.92 580.98,407.92 C581.5,407.92 582.03,403.59 582.56,401.14 C583.09,398.69 583.61,395.4 584.14,393.22 C584.74,390.74 585.35,389.08 585.95,387.57 C586.55,386.06 587.16,384.18 587.76,384.18 C588.29,384.18 588.81,387.76 589.34,389.83 C589.87,391.9 590.4,394.86 590.92,396.61 C591.38,398.12 591.83,400.01 592.28,400.01 C593.03,400.01 593.79,398.03 594.54,396.61 C595.07,395.62 595.6,393.22 596.12,393.22 C596.65,393.22 597.18,395.7 597.71,396.61 C598.31,397.66 598.91,398.88 599.51,398.88 C600.27,398.88 601.02,397.75 601.78,397.75 C602.38,397.75 602.98,398.4 603.58,398.88 C604.34,399.47 605.09,400.38 605.84,401.14 C606.6,401.89 607.35,403.4 608.11,403.4 C608.63,403.4 609.16,402.83 609.69,402.27 C610.22,401.7 610.74,400.01 611.27,400.01 C611.87,400.01 612.48,401.58 613.08,402.27 C613.83,403.13 614.59,403.67 615.34,404.53 C615.94,405.22 616.55,406.1 617.15,406.79 C617.9,407.65 618.66,408.42 619.41,409.05 C619.94,409.49 620.46,409.43 620.99,410.18 C621.52,410.93 622.05,412.67 622.57,414.7 C623.18,417.03 623.78,420.73 624.38,423.75" fill="none" stroke="#ff0000" stroke-width="1.0" stroke-linejoin="round"/>
<path d="M407.07,419.22 C407.37,413.95 407.68,407.67 407.98,403.4 C408.58,394.86 409.18,393.22 409.79,389.83 C410.39,386.44 410.99,384.79 411.6,383.05 C412.13,381.52 412.65,380.44 413.18,379.66 C413.56,379.1 413.94,378.53 414.31,378.53 C414.69,378.53 415.07,379.45 415.44,380.79 C415.97,382.66 416.5,386.69 417.03,389.83 C417.63,393.43 418.23,397.37 418.84,401.14 C419.44,404.91 420.04,409.28 420.65,412.44 C421.4,416.4 422.16,419.22 422.91,421.49 C423.66,423.75 424.42,425.25 425.17,426.01 C425.93,426.76 426.68,427.14 427.43,427.14 C428.19,427.14 428.94,425.48 429.7,423.75 C430.22,422.53 430.75,420.36 431.28,419.22 C431.81,418.09 432.34,416.96 432.86,416.96 C433.47,416.96 434.07,418.4 434.67,419.22 C435.43,420.25 436.18,421.86 436.94,422.62 C437.69,423.37 438.44,423.18 439.2,423.75 C439.95,424.31 440.71,425.25 441.46,426.01 C442.22,426.76 442.97,427.33 443.72,428.27 C444.48,429.21 445.23,430.61 445.99,431.66 C446.74,432.72 447.49,433.85 448.25,434.6 C449,435.35 449.76,436.18 450.51,436.18 C451.27,436.18 452.02,436.18 452.77,436.18 C453.53,436.18 454.28,435.24 455.04,433.92 C455.79,432.6 456.54,430.34 457.3,428.27 C458.05,426.2 458.81,423.54 459.56,421.49 C460.16,419.84 460.77,417.83 461.37,416.96 C461.9,416.21 462.43,415.83 462.95,415.83 C463.48,415.83 464.01,418.16 464.54,419.22 C465.14,420.44 465.75,421.72 466.35,422.62 C467.1,423.74 467.86,423.76 468.61,424.88 C469.21,425.77 469.82,426.82 470.42,428.27 C470.95,429.53 471.48,431.36 472,432.79 C472.53,434.22 473.06,436.7 473.59,436.86 C474.57,437.16 475.55,437.31 476.53,437.31 C477.66,437.31 478.79,437.31 479.92,437.31 C481.05,437.31 482.19,436.86 483.32,436.86 C484.45,436.86 485.58,437.75 486.71,437.76 C499.82,437.92 512.93,437.99 526.04,437.99 C526.57,437.99 527.1,435.16 527.62,433.92 C528.08,432.86 528.53,430.98 528.98,430.98 C529.51,430.98 530.04,432.49 530.56,432.79 C531.09,433.09 531.62,433.24 532.15,433.24 C532.75,433.24 533.35,431.66 533.95,431.66 C534.56,431.66 535.16,432.63 535.76,433.24 C536.29,433.78 536.82,435.05 537.34,435.05 C538.1,435.05 538.85,435.05 539.61,435.05 C540.36,435.05 541.11,434.79 541.87,434.6 C542.62,434.41 543.37,434.22 544.13,433.92 C544.88,433.62 545.63,433.05 546.39,432.79 C547.14,432.53 547.89,432.34 548.65,432.34 C549.18,432.34 549.7,433.49 550.23,433.92 C550.83,434.42 551.44,435.05 552.04,435.05 C552.64,435.05 553.25,434.25 553.85,433.92 C554.75,433.43 555.66,433.21 556.56,432.79 C557.31,432.44 558.07,431.96 558.82,431.66 C559.58,431.36 560.33,431.25 561.08,430.98 C561.84,430.72 562.59,430.08 563.34,430.08 C564.1,430.08 564.85,430.23 565.6,430.53 C566.36,430.83 567.11,432.04 567.86,432.79 C568.62,433.54 569.37,434.6 570.13,435.05 C570.5,435.28 570.88,435.5 571.26,435.5 C572.01,435.5 572.76,432.49 573.52,430.53 C574.27,428.57 575.02,426.01 575.78,423.75 C576.53,421.49 577.28,417.72 578.04,416.96 C578.79,416.21 579.55,416.21 580.3,415.83 C581.05,415.46 581.81,415.08 582.56,414.7 C583.31,414.33 584.07,414.33 584.82,413.57 C585.2,413.2 585.57,411.99 585.95,411.99 C586.55,411.99 587.16,413.66 587.76,414.7 C588.66,416.27 589.57,418.27 590.47,420.36 C591.23,422.1 591.98,424.12 592.73,426.01 C593.34,427.52 593.94,429.46 594.54,430.53 C595.07,431.47 595.6,432.34 596.12,432.34 C596.88,432.34 597.63,430.08 598.38,428.27 C599.14,426.46 599.89,423.56 600.65,421.49 C601.4,419.41 602.15,416.96 602.91,415.83 C603.28,415.27 603.66,414.7 604.04,414.7 C604.64,414.7 605.24,417.14 605.84,419.22 C606.37,421.05 606.9,424.31 607.43,426.01 C607.95,427.7 608.48,429.4 609.01,429.4 C609.61,429.4 610.22,427.44 610.82,426.01 C611.57,424.22 612.33,421.8 613.08,419.22 C613.68,417.16 614.28,414.14 614.89,412.44 C615.49,410.75 616.09,409.05 616.7,409.05 C617.37,409.05 618.05,409.66 618.73,410.18 C619.48,410.76 620.24,411.18 620.99,412.44 C621.52,413.32 622.05,414.77 622.57,415.83 C623.18,417.05 623.78,418.09 624.38,419.22" fill="none" stroke="#0000ff" stroke-width="1.0" stroke-linejoin="round"/>
<path d="M407.07,374.01 C407.37,364.21 407.68,353.1 407.98,344.61 C408.43,331.88 408.88,321.99 409.33,315.22 C409.64,310.71 409.94,305.72 410.24,305.72 C410.84,305.72 411.45,306.18 412.05,306.18 C412.65,306.18 413.26,305.45 413.86,305.05 C414.39,304.69 414.92,303.91 415.44,303.91 C415.97,303.91 416.5,305.84 417.03,307.31 C417.48,308.57 417.93,311.83 418.38,311.83 C418.91,311.83 419.44,309.22 419.97,308.44 C420.35,307.88 420.72,307.31 421.1,307.31 C421.48,307.31 421.85,311.64 422.23,315.22 C422.61,318.8 422.98,324.26 423.36,328.79 C423.74,333.31 424.12,338.21 424.49,342.35 C424.87,346.5 425.25,351.4 425.62,353.66 C426,355.92 426.38,357.05 426.76,357.05 C427.28,357.05 427.81,355.16 428.34,351.4 C428.94,347.09 429.55,338.21 430.15,331.05 C430.75,323.89 431.36,315.17 431.96,308.44 C432.49,302.55 433.02,295.79 433.54,292.61 C433.84,290.79 434.15,289.22 434.45,289.22 C434.9,289.22 435.35,292.07 435.81,294.87 C436.33,298.14 436.86,303.87 437.39,308.44 C437.99,313.65 438.6,319.36 439.2,324.26 C439.8,329.16 440.41,334.8 441.01,337.83 C441.54,340.48 442.06,342.35 442.59,342.35 C443.12,342.35 443.65,340.02 444.18,338.96 C444.78,337.74 445.38,336.05 445.99,335.57 C446.36,335.27 446.74,335.12 447.12,335.12 C447.65,335.12 448.17,337.05 448.7,340.09 C449.3,343.56 449.91,348.69 450.51,355.92 C450.89,360.43 451.27,367.55 451.64,371.74 C452.17,377.62 452.7,380.42 453.23,383.05 C453.83,386.05 454.43,387.57 455.04,387.57 C455.64,387.57 456.24,386.44 456.85,386.44 C457.37,386.44 457.9,388.89 458.43,389.83 C458.96,390.77 459.49,392.09 460.01,392.09 C460.62,392.09 461.22,389.38 461.82,389.38 C462.43,389.38 463.03,391.94 463.63,393.22 C464.16,394.35 464.69,395.67 465.22,396.61 C465.75,397.56 466.27,398.17 466.8,398.88 C467.4,399.69 468.01,399.63 468.61,401.14 C469.21,402.64 469.82,405.49 470.42,407.92 C470.95,410.05 471.48,414.7 472,414.7 C472.53,414.7 473.06,408.25 473.59,405.66 C474.19,402.7 474.79,398.42 475.4,398.42 C476,398.42 476.6,401.25 477.21,403.4 C477.74,405.28 478.26,408.67 478.79,410.18 C479.32,411.69 479.85,411.78 480.38,412.44 C481.13,413.39 481.88,413.84 482.64,414.7 C483.24,415.39 483.84,415.46 484.45,416.96 C484.83,417.91 485.2,419.93 485.58,421.49 C486.11,423.66 486.63,426.71 487.16,428.27 C487.88,430.38 488.6,431.43 489.31,431.43 C489.8,431.43 490.29,429.72 490.78,428.72 C491.25,427.76 491.73,425.56 492.2,425.56 C492.7,425.56 493.21,428.57 493.71,430.08 C494.32,431.88 494.92,434.3 495.52,435.5 C495.98,436.42 496.44,437.2 496.9,437.2 C497.5,437.2 498.09,434.05 498.69,432.34 C499.21,430.82 499.74,428.75 500.27,427.59 C500.71,426.61 501.16,425.56 501.6,425.56 C502.14,425.56 502.67,429.21 503.21,430.98 C503.81,432.98 504.41,435.95 505.02,436.86 C505.51,437.61 506.01,437.99 506.51,437.99 C512.64,437.99 518.78,437.99 524.91,437.99 C525.51,437.99 526.12,434.75 526.72,432.79 C527.25,431.08 527.77,428.35 528.3,427.14 C528.68,426.27 529.06,425.56 529.43,425.56 C530.04,425.56 530.64,430.19 531.24,430.53 C531.77,430.83 532.3,430.98 532.82,430.98 C533.35,430.98 533.88,428.04 534.41,427.14 C535.01,426.11 535.61,425.56 536.21,425.56 C536.82,425.56 537.42,429.3 538.02,430.53 C538.55,431.61 539.08,432.79 539.61,432.79 C540.13,432.79 540.66,429.44 541.19,428.27 C541.79,426.93 542.39,425.56 543,425.56 C543.6,425.56 544.2,428.27 544.81,428.27 C545.33,428.27 545.86,426.57 546.39,426.01 C546.92,425.44 547.44,425.23 547.97,424.88 C548.57,424.47 549.18,424.26 549.78,423.75 C550.16,423.42 550.53,423.37 550.91,422.62 C551.29,421.86 551.66,416.02 552.04,412.44 C552.42,408.86 552.79,404.12 553.17,401.14 C553.7,396.96 554.22,395.09 554.75,393.22 C555.36,391.09 555.96,390.85 556.56,389.83 C557.16,388.81 557.77,387.12 558.37,387.12 C558.9,387.12 559.42,388.44 559.95,389.83 C560.48,391.23 561.01,393.86 561.53,395.48 C562.14,397.34 562.74,400.01 563.34,400.01 C563.72,400.01 564.1,394.54 564.47,389.83 C564.85,385.12 565.23,376.72 565.6,371.74 C566.21,363.78 566.81,359.76 567.41,355.92 C567.94,352.56 568.47,351.02 569,349.13 C569.52,347.25 570.05,345.72 570.58,344.61 C571.18,343.34 571.78,342.35 572.39,342.35 C572.99,342.35 573.59,342.35 574.19,342.35 C574.72,342.35 575.25,336.32 575.78,331.05 C576.3,325.77 576.83,316.47 577.36,310.7 C577.96,304.1 578.57,294.87 579.17,294.87 C579.77,294.87 580.37,295.62 580.98,297.13 C581.5,298.45 582.03,302.36 582.56,303.91 C582.94,305.03 583.31,306.18 583.69,306.18 C584.29,306.18 584.9,301.6 585.5,299.39 C586.03,297.46 586.55,294.8 587.08,293.74 C587.46,292.99 587.83,292.61 588.21,292.61 C588.81,292.61 589.42,296.27 590.02,299.39 C590.55,302.12 591.07,307.23 591.6,309.57 C591.98,311.24 592.36,312.96 592.73,312.96 C593.34,312.96 593.94,311.83 594.54,311.83 C595.07,311.83 595.6,317.9 596.12,319.74 C596.5,321.05 596.88,322.45 597.25,322.45 C597.86,322.45 598.46,318.18 599.06,315.22 C599.59,312.63 600.12,308.4 600.65,306.18 C601.25,303.63 601.85,301.65 602.45,301.65 C602.98,301.65 603.51,303.53 604.04,306.18 C604.64,309.2 605.24,316.02 605.84,319.74 C606.37,322.99 606.9,327.66 607.43,327.66 C608.18,327.66 608.93,326.52 609.69,325.39 C610.44,324.26 611.2,322.13 611.95,320.87 C612.48,319.99 613,318.61 613.53,318.61 C614.13,318.61 614.74,319.78 615.34,320.87 C616.09,322.23 616.85,324.64 617.6,326.52 C618.2,328.03 618.81,329.65 619.41,331.05 C619.94,332.26 620.46,333.31 620.99,334.44 C621.52,335.57 622.05,335.57 622.57,337.83 C623.03,339.77 623.48,342.8 623.93,351.4 C624.23,357.12 624.53,366.47 624.83,374.01" fill="none" stroke="#000000" stroke-width="1.0" stroke-linejoin="round"/>
<rect x="404.5" y="272.7" width="222.6" height="168" fill="none" stroke="#000" stroke-width="1.6"/>
<line x1="400" y1="438.1" x2="404.5" y2="438.1" stroke="#111" stroke-width="0.9"/>
<text x="392.3" y="442.34" font-size="12.8" textLength="5.3" lengthAdjust="spacingAndGlyphs">0</text>
<line x1="402" y1="431.28" x2="404.5" y2="431.28" stroke="#111" stroke-width="0.9"/>
<line x1="402" y1="424.46" x2="404.5" y2="424.46" stroke="#111" stroke-width="0.9"/>
<line x1="402" y1="417.64" x2="404.5" y2="417.64" stroke="#111" stroke-width="0.9"/>
<line x1="400" y1="410.82" x2="404.5" y2="410.82" stroke="#111" stroke-width="0.9"/>
<text x="392.3" y="415.06" font-size="12.8" textLength="5.3" lengthAdjust="spacingAndGlyphs">2</text>
<line x1="402" y1="404" x2="404.5" y2="404" stroke="#111" stroke-width="0.9"/>
<line x1="402" y1="397.18" x2="404.5" y2="397.18" stroke="#111" stroke-width="0.9"/>
<line x1="402" y1="390.36" x2="404.5" y2="390.36" stroke="#111" stroke-width="0.9"/>
<line x1="400" y1="383.54" x2="404.5" y2="383.54" stroke="#111" stroke-width="0.9"/>
<text x="392.3" y="387.78" font-size="12.8" textLength="5.3" lengthAdjust="spacingAndGlyphs">4</text>
<line x1="402" y1="376.72" x2="404.5" y2="376.72" stroke="#111" stroke-width="0.9"/>
<line x1="402" y1="369.9" x2="404.5" y2="369.9" stroke="#111" stroke-width="0.9"/>
<line x1="402" y1="363.08" x2="404.5" y2="363.08" stroke="#111" stroke-width="0.9"/>
<line x1="400" y1="356.26" x2="404.5" y2="356.26" stroke="#111" stroke-width="0.9"/>
<text x="392.3" y="360.5" font-size="12.8" textLength="5.3" lengthAdjust="spacingAndGlyphs">6</text>
<line x1="402" y1="349.44" x2="404.5" y2="349.44" stroke="#111" stroke-width="0.9"/>
<line x1="402" y1="342.62" x2="404.5" y2="342.62" stroke="#111" stroke-width="0.9"/>
<line x1="402" y1="335.8" x2="404.5" y2="335.8" stroke="#111" stroke-width="0.9"/>
<line x1="400" y1="328.98" x2="404.5" y2="328.98" stroke="#111" stroke-width="0.9"/>
<text x="392.3" y="333.22" font-size="12.8" textLength="5.3" lengthAdjust="spacingAndGlyphs">8</text>
<line x1="402" y1="322.16" x2="404.5" y2="322.16" stroke="#111" stroke-width="0.9"/>
<line x1="402" y1="315.34" x2="404.5" y2="315.34" stroke="#111" stroke-width="0.9"/>
<line x1="402" y1="308.52" x2="404.5" y2="308.52" stroke="#111" stroke-width="0.9"/>
<line x1="400" y1="301.7" x2="404.5" y2="301.7" stroke="#111" stroke-width="0.9"/>
<text x="385.5" y="305.94" font-size="12.8" textLength="11.5" lengthAdjust="spacingAndGlyphs">10</text>
<line x1="402" y1="294.88" x2="404.5" y2="294.88" stroke="#111" stroke-width="0.9"/>
<line x1="402" y1="288.06" x2="404.5" y2="288.06" stroke="#111" stroke-width="0.9"/>
<line x1="402" y1="281.24" x2="404.5" y2="281.24" stroke="#111" stroke-width="0.9"/>
<line x1="400" y1="274.42" x2="404.5" y2="274.42" stroke="#111" stroke-width="0.9"/>
<text x="385.5" y="278.66" font-size="12.8" textLength="11.5" lengthAdjust="spacingAndGlyphs">12</text>
<line x1="408.76" y1="440.7" x2="408.76" y2="445.3" stroke="#111" stroke-width="0.9"/>
<text x="407.06" y="456.1" text-anchor="middle" font-size="12.6">-15</text>
<line x1="418.28" y1="440.7" x2="418.28" y2="443.3" stroke="#111" stroke-width="0.9"/>
<line x1="427.79" y1="440.7" x2="427.79" y2="443.3" stroke="#111" stroke-width="0.9"/>
<line x1="437.31" y1="440.7" x2="437.31" y2="443.3" stroke="#111" stroke-width="0.9"/>
<line x1="446.82" y1="440.7" x2="446.82" y2="443.3" stroke="#111" stroke-width="0.9"/>
<line x1="456.34" y1="440.7" x2="456.34" y2="445.3" stroke="#111" stroke-width="0.9"/>
<text x="454.64" y="456.1" text-anchor="middle" font-size="12.6">-10</text>
<line x1="465.86" y1="440.7" x2="465.86" y2="443.3" stroke="#111" stroke-width="0.9"/>
<line x1="475.37" y1="440.7" x2="475.37" y2="443.3" stroke="#111" stroke-width="0.9"/>
<line x1="484.89" y1="440.7" x2="484.89" y2="443.3" stroke="#111" stroke-width="0.9"/>
<line x1="494.4" y1="440.7" x2="494.4" y2="443.3" stroke="#111" stroke-width="0.9"/>
<line x1="503.92" y1="440.7" x2="503.92" y2="445.3" stroke="#111" stroke-width="0.9"/>
<text x="502.22" y="456.1" text-anchor="middle" font-size="12.6">-5</text>
<line x1="513.44" y1="440.7" x2="513.44" y2="443.3" stroke="#111" stroke-width="0.9"/>
<line x1="522.95" y1="440.7" x2="522.95" y2="443.3" stroke="#111" stroke-width="0.9"/>
<line x1="532.47" y1="440.7" x2="532.47" y2="443.3" stroke="#111" stroke-width="0.9"/>
<line x1="541.98" y1="440.7" x2="541.98" y2="443.3" stroke="#111" stroke-width="0.9"/>
<line x1="551.5" y1="440.7" x2="551.5" y2="445.3" stroke="#111" stroke-width="0.9"/>
<text x="551.35" y="456.1" text-anchor="middle" font-size="12.6">0</text>
<line x1="561.02" y1="440.7" x2="561.02" y2="443.3" stroke="#111" stroke-width="0.9"/>
<line x1="570.53" y1="440.7" x2="570.53" y2="443.3" stroke="#111" stroke-width="0.9"/>
<line x1="580.05" y1="440.7" x2="580.05" y2="443.3" stroke="#111" stroke-width="0.9"/>
<line x1="589.56" y1="440.7" x2="589.56" y2="443.3" stroke="#111" stroke-width="0.9"/>
<line x1="599.08" y1="440.7" x2="599.08" y2="445.3" stroke="#111" stroke-width="0.9"/>
<text x="598.93" y="456.1" text-anchor="middle" font-size="12.6">5</text>
<line x1="608.6" y1="440.7" x2="608.6" y2="443.3" stroke="#111" stroke-width="0.9"/>
<line x1="618.11" y1="440.7" x2="618.11" y2="443.3" stroke="#111" stroke-width="0.9"/>
<line x1="627.9" y1="283.1" x2="631.9" y2="283.1" stroke="#ff0000" stroke-width="1.5"/>
<text x="634.8" y="285.6" font-size="12.6" textLength="32.7" lengthAdjust="spacingAndGlyphs">Donor</text>
<line x1="627.9" y1="296" x2="631.9" y2="296" stroke="#008000" stroke-width="1.5"/>
<text x="634.8" y="298.5" font-size="12.6" textLength="45.2" lengthAdjust="spacingAndGlyphs"><tspan font-style="italic">π</tspan>-spacer</text>
<line x1="627.9" y1="309.9" x2="631.9" y2="309.9" stroke="#0000ff" stroke-width="1.5"/>
<text x="634.8" y="312.4" font-size="12.6" textLength="47.2" lengthAdjust="spacingAndGlyphs">Acceptor</text>
<line x1="627.9" y1="323.3" x2="631.9" y2="323.3" stroke="#000000" stroke-width="1.5"/>
<text x="634.8" y="325.8" font-size="12.6" textLength="27" lengthAdjust="spacingAndGlyphs">Total</text>
<text transform="translate(365.4,362.25) rotate(-90)" text-anchor="middle" font-size="15.3" textLength="110.5" lengthAdjust="spacingAndGlyphs">Relative Intensity</text>
<text x="478.5" y="477.8" font-size="13.6" textLength="74.7" lengthAdjust="spacingAndGlyphs">Energy <tspan font-style="italic">(eV)</tspan></text>
<text x="488.7" y="510" font-size="17.5" textLength="56" lengthAdjust="spacingAndGlyphs">TPBD4</text>
<path d="M52.07,679.7 C52.37,675.18 52.68,668.77 52.98,666.14 C53.58,660.86 54.18,658.22 54.79,658.22 C55.39,658.22 55.99,660.18 56.6,661.61 C57.35,663.4 58.11,666.14 58.86,668.4 C59.61,670.66 60.37,674.1 61.12,675.18 C61.65,675.93 62.18,676.31 62.71,676.31 C63.23,676.31 63.76,671.34 64.29,668.4 C64.89,665.03 65.5,659.1 66.1,657.09 C66.55,655.59 67,654.83 67.46,654.83 C68.14,654.83 68.81,657.92 69.49,659.35 C70.25,660.95 71,663.45 71.76,663.88 C72.28,664.18 72.81,664.33 73.34,664.33 C73.94,664.33 74.55,660.58 75.15,657.09 C75.9,652.74 76.66,644.3 77.41,639.01 C78.02,634.77 78.62,629.96 79.22,627.7 C79.52,626.57 79.83,625.44 80.13,625.44 C80.73,625.44 81.33,628.45 81.94,632.22 C82.54,635.99 83.14,643.64 83.75,648.05 C84.5,653.56 85.25,659.41 86.01,660.48 C86.54,661.24 87.06,661.61 87.59,661.61 C88.35,661.61 89.1,655.4 89.86,652.57 C90.61,649.74 91.36,646.38 92.12,644.66 C92.65,643.45 93.17,642.4 93.7,642.4 C94.3,642.4 94.91,643.9 95.51,646.92 C96.11,649.93 96.72,657.82 97.32,661.61 C98.08,666.36 98.83,667.64 99.58,670.66 C100.34,673.67 101.09,676.69 101.85,679.7 C102.6,682.72 103.35,686.87 104.11,688.75 C104.64,690.06 105.16,691.01 105.69,691.01 C106.45,691.01 107.2,687.22 107.95,686.03 C108.48,685.2 109.01,684.22 109.54,684.22 C110.29,684.22 111.05,685.73 111.8,686.49 C112.56,687.24 113.31,688.07 114.06,688.75 C115.04,689.63 116.02,691.01 117,691.01 C117.76,691.01 118.51,691.01 119.27,691.01 C120.25,691.01 121.23,690.48 122.21,689.88 C123.11,689.32 124.02,688.18 124.92,687.62 C125.83,687.05 126.73,686.74 127.64,686.49 C128.69,686.18 129.75,686.03 130.81,686.03 C131.56,686.03 132.31,689.03 133.07,691.01 C133.75,692.79 134.43,697.11 135.1,697.11 C135.71,697.11 136.31,694.83 136.91,693.95 C137.48,693.12 138.05,691.91 138.61,691.91 C139.01,691.91 139.41,694.4 139.81,695.53 C140.34,697.02 140.87,698.58 141.39,699.6 C141.92,700.62 142.45,701.37 142.98,701.63 C143.58,701.94 144.18,702.08 144.79,702.09 C153.84,702.24 162.89,702.31 171.93,702.31 C172.69,702.31 173.44,701.87 174.2,701.18 C174.8,700.63 175.4,698.92 176.01,698.92 C176.76,698.92 177.51,700.81 178.27,701.18 C179.17,701.63 180.08,701.86 180.98,701.86 C181.74,701.86 182.49,701.86 183.25,701.86 C184.38,701.86 185.51,699.15 186.64,697.79 C187.39,696.89 188.15,695.08 188.9,695.08 C189.66,695.08 190.41,696.21 191.16,696.66 C191.92,697.11 192.67,697.79 193.43,697.79 C194.18,697.79 194.93,697.41 195.69,696.66 C196.22,696.13 196.74,695.57 197.27,694.4 C197.88,693.06 198.48,690.12 199.08,688.75 C199.84,687.04 200.59,686.79 201.34,686.03 C202.1,685.28 202.85,684.71 203.61,684.22 C204.36,683.73 205.11,683.09 205.87,683.09 C206.47,683.09 207.08,683.98 207.68,684.22 C208.43,684.53 209.19,684.68 209.94,684.68 C210.47,684.68 211,683.4 211.52,680.83 C212.05,678.27 212.58,670.29 213.11,666.14 C213.71,661.39 214.31,657.85 214.92,654.83 C215.52,651.82 216.12,648.91 216.73,648.05 C217.26,647.3 217.78,646.92 218.31,646.92 C218.84,646.92 219.37,650.95 219.9,652.57 C220.5,654.42 221.1,657.09 221.7,657.09 C222.31,657.09 222.91,651.29 223.51,648.05 C224.04,645.21 224.57,642.02 225.1,639.01 C225.63,635.99 226.15,631.72 226.68,629.96 C227.13,628.45 227.59,627.7 228.04,627.7 C228.57,627.7 229.1,631.85 229.62,634.48 C230.15,637.12 230.68,642.21 231.21,643.53 C231.81,645.03 232.41,645.79 233.02,645.79 C233.77,645.79 234.52,645.41 235.28,644.66 C236.03,643.9 236.79,642.21 237.54,641.27 C238.3,640.32 239.05,639.01 239.8,639.01 C240.41,639.01 241.01,641.18 241.61,642.4 C242.14,643.46 242.67,645.79 243.2,645.79 C243.95,645.79 244.7,643.6 245.46,642.4 C246.21,641.19 246.97,638.55 247.72,638.55 C248.48,638.55 249.23,639.87 249.98,641.27 C250.74,642.66 251.49,645.6 252.25,646.92 C253,648.24 253.75,649.18 254.51,649.18 C255.26,649.18 256.02,647.67 256.77,646.92 C257.15,646.54 257.52,645.79 257.9,645.79 C258.66,645.79 259.41,648.8 260.16,650.31 C260.92,651.82 261.67,653.32 262.43,654.83 C263.18,656.34 263.93,658.22 264.69,659.35 C265.44,660.48 266.2,661.61 266.95,661.61 C267.7,661.61 268.46,660.48 269.21,660.48 C269.82,660.48 270.42,663.42 271.02,666.14 C271.55,668.51 272.08,672.17 272.61,675.18" fill="none" stroke="#008000" stroke-width="1.0" stroke-linejoin="round"/>
<path d="M52.07,688.75 C52.37,685.73 52.68,682.22 52.98,679.7 C53.43,675.93 53.88,671.79 54.33,671.79 C54.86,671.79 55.39,672.17 55.92,672.92 C56.45,673.67 56.97,676.31 57.5,676.31 C58.11,676.31 58.71,674.62 59.31,672.92 C59.92,671.22 60.52,668.33 61.12,666.14 C61.88,663.39 62.63,658.22 63.38,658.22 C63.91,658.22 64.44,658.98 64.97,660.48 C65.5,661.99 66.02,665.98 66.55,668.4 C67.31,671.86 68.06,675.16 68.81,677.44 C69.42,679.27 70.02,681.51 70.62,681.51 C71.38,681.51 72.13,681.51 72.89,681.51 C73.64,681.51 74.4,680.91 75.15,679.7 C75.9,678.5 76.66,675.56 77.41,674.05 C78.17,672.54 78.92,670.96 79.67,670.66 C80.43,670.36 81.18,670.21 81.94,670.21 C82.69,670.21 83.44,670.66 84.2,670.66 C85.33,670.66 86.46,670.21 87.59,670.21 C88.35,670.21 89.1,670.36 89.86,670.66 C90.61,670.96 91.36,674.8 92.12,677.44 C92.87,680.08 93.63,684.04 94.38,686.49 C95.13,688.94 95.89,690.82 96.64,692.14 C97.4,693.46 98.15,694.4 98.9,694.4 C99.66,694.4 100.41,692.7 101.17,691.01 C101.92,689.31 102.68,684.22 103.43,684.22 C103.96,684.22 104.49,685.16 105.01,686.49 C105.62,688 106.22,691.82 106.82,693.27 C107.58,695.08 108.33,695.53 109.09,695.98 C109.84,696.43 110.59,696.66 111.35,696.66 C112.1,696.66 112.86,695.98 113.61,695.98 C114.37,695.98 115.12,696.66 115.87,696.66 C116.63,696.66 117.38,693.08 118.14,691.01 C118.89,688.94 119.64,686.01 120.4,684.22 C121,682.79 121.6,680.83 122.21,680.83 C122.66,680.83 123.11,682.68 123.57,684.22 C124.02,685.77 124.47,688.4 124.92,690.1 C125.53,692.37 126.13,694.13 126.73,695.53 C127.26,696.75 127.79,697.54 128.32,698.24 C129.07,699.25 129.83,699.58 130.58,700.05 C131.56,700.66 132.54,700.91 133.52,701.18 C135.18,701.63 136.84,701.86 138.5,701.86 C140,701.86 141.5,701.86 143,701.86 C143.6,701.86 144.19,699.24 144.79,697.79 C145.31,696.51 145.84,694.71 146.37,693.72 C146.82,692.89 147.26,692.03 147.71,692.03 C148.24,692.03 148.78,695 149.31,696.43 C149.91,698.06 150.52,700.6 151.12,701.18 C151.75,701.79 152.37,702.07 153,702.09 C159.31,702.24 165.62,702.31 171.93,702.31 C175.7,702.31 179.48,702.31 183.25,702.31 C186.26,702.31 189.28,702.16 192.3,701.86 C193.65,701.72 195.01,701.63 196.37,701.18 C197.12,700.93 197.88,700.05 198.63,697.79 C199.38,695.53 200.14,689.31 200.89,686.49 C201.65,683.66 202.4,681.96 203.15,680.83 C203.53,680.27 203.91,679.7 204.29,679.7 C204.81,679.7 205.34,680.64 205.87,681.96 C206.47,683.48 207.08,686.77 207.68,688.75 C208.21,690.47 208.73,693.27 209.26,693.27 C210.02,693.27 210.77,690.25 211.52,688.75 C212.28,687.24 213.03,685.73 213.79,684.22 C214.54,682.72 215.3,681.02 216.05,679.7 C216.8,678.38 217.56,677.25 218.31,676.31 C219.07,675.37 219.82,674.99 220.57,674.05 C221.33,673.11 222.08,671.6 222.84,670.66 C223.59,669.72 224.34,668.4 225.1,668.4 C225.63,668.4 226.15,669.49 226.68,670.66 C227.29,672 227.89,674.84 228.49,676.31 C228.87,677.23 229.25,678.57 229.62,678.57 C230.15,678.57 230.68,675.16 231.21,672.92 C231.81,670.36 232.41,666.33 233.02,663.88 C233.62,661.43 234.22,658.22 234.83,658.22 C235.35,658.22 235.88,659.92 236.41,661.61 C236.94,663.31 237.47,666.88 237.99,668.4 C238.45,669.7 238.9,670.66 239.35,670.66 C240.1,670.66 240.86,667.39 241.61,666.14 C242.14,665.26 242.67,663.88 243.2,663.88 C243.95,663.88 244.7,665.28 245.46,666.14 C246.06,666.82 246.67,668.4 247.27,668.4 C247.8,668.4 248.32,667.27 248.85,667.27 C249.61,667.27 250.36,667.83 251.11,668.4 C251.87,668.96 252.62,669.91 253.38,670.66 C254.13,671.41 254.89,672.92 255.64,672.92 C256.39,672.92 257.15,670.66 257.9,670.66 C258.66,670.66 259.41,672.17 260.16,672.92 C260.92,673.67 261.67,674.62 262.43,675.18 C263.18,675.75 263.93,675.93 264.69,676.31 C265.44,676.69 266.2,676.75 266.95,677.44 C267.55,677.99 268.16,678.43 268.76,679.7 C269.29,680.81 269.82,682.19 270.34,684.22 C270.95,686.55 271.55,690.25 272.15,693.27" fill="none" stroke="#ff0000" stroke-width="1.0" stroke-linejoin="round"/>
<path d="M52.07,672.92 C52.6,667.64 53.13,663.5 53.66,657.09 C54.18,650.69 54.71,640.35 55.24,634.48 C55.84,627.78 56.45,623.89 57.05,620.92 C57.5,618.69 57.95,616.85 58.41,616.85 C58.86,616.85 59.31,619.11 59.76,623.18 C60.22,627.25 60.67,635.93 61.12,641.27 C61.65,647.49 62.18,652.95 62.71,657.09 C63.23,661.24 63.76,664.16 64.29,666.14 C64.89,668.4 65.5,668.02 66.1,669.53 C66.7,671.04 67.31,673.11 67.91,675.18 C68.51,677.25 69.12,679.98 69.72,681.96 C70.4,684.2 71.08,686.94 71.76,687.62 C72.51,688.37 73.26,687.99 74.02,688.75 C74.77,689.5 75.53,692.33 76.28,693.27 C76.81,693.92 77.34,694.4 77.86,694.4 C78.47,694.4 79.07,690.33 79.67,688.75 C80.43,686.77 81.18,684.22 81.94,684.22 C82.54,684.22 83.14,687.35 83.75,688.75 C84.27,689.97 84.8,692.14 85.33,692.14 C86.08,692.14 86.84,691.01 87.59,691.01 C88.35,691.01 89.1,692.52 89.86,693.27 C90.61,694.02 91.36,695.53 92.12,695.53 C92.87,695.53 93.63,694.21 94.38,693.27 C94.91,692.61 95.44,691.01 95.96,691.01 C96.57,691.01 97.17,693.24 97.77,694.4 C98.53,695.85 99.28,698.17 100.04,698.92 C100.79,699.67 101.54,700.05 102.3,700.05 C103.05,700.05 103.81,698.92 104.56,697.79 C105.32,696.66 106.07,694.47 106.82,693.27 C107.58,692.06 108.33,690.56 109.09,690.56 C109.69,690.56 110.29,691.66 110.9,692.14 C111.42,692.55 111.95,693.27 112.48,693.27 C113.23,693.27 113.99,691.01 114.74,691.01 C115.27,691.01 115.8,693.18 116.33,694.4 C116.93,695.79 117.53,697.74 118.14,698.92 C118.89,700.4 119.64,701.86 120.4,701.86 C121.91,701.86 123.41,701.86 124.92,701.86 C126.43,701.86 127.94,701.41 129.45,701.41 C130.96,701.41 132.46,701.82 133.97,701.86 C146.63,702.16 159.28,702.31 171.93,702.31 C172.69,702.31 173.44,699.49 174.2,697.79 C174.95,696.09 175.7,693.76 176.46,692.14 C177.06,690.84 177.67,688.75 178.27,688.75 C178.8,688.75 179.32,689.69 179.85,691.01 C180.38,692.33 180.91,695.04 181.44,696.66 C182.04,698.51 182.64,701.18 183.25,701.18 C184,701.18 184.75,701.18 185.51,701.18 C186.26,701.18 187.02,700.43 187.77,700.05 C188.52,699.67 189.28,699.22 190.03,698.92 C190.79,698.62 191.54,698.55 192.3,698.24 C192.9,698 193.5,697.34 194.1,697.34 C194.63,697.34 195.16,698.6 195.69,698.92 C196.44,699.37 197.2,699.6 197.95,699.6 C198.7,699.6 199.46,698.28 200.21,697.79 C200.97,697.3 201.72,697.13 202.48,696.66 C203,696.33 203.53,696.28 204.06,695.53 C204.66,694.67 205.27,692.44 205.87,691.01 C206.47,689.58 207.08,686.94 207.68,686.94 C208.21,686.94 208.73,689.58 209.26,691.01 C209.79,692.44 210.32,694.42 210.85,695.53 C211.45,696.8 212.05,697.79 212.66,697.79 C213.41,697.79 214.16,695.53 214.92,695.53 C215.52,695.53 216.12,695.53 216.73,695.53 C217.26,695.53 217.78,696.36 218.31,696.66 C218.84,696.96 219.37,697.34 219.9,697.34 C220.5,697.34 221.1,695.45 221.7,694.4 C222.31,693.34 222.91,691.77 223.51,691.01 C224.04,690.35 224.57,690.42 225.1,689.88 C225.85,689.1 226.61,688.18 227.36,686.49 C228.11,684.79 228.87,681.96 229.62,679.7 C230.38,677.44 231.13,674 231.89,672.92 C232.41,672.17 232.94,671.79 233.47,671.79 C234.07,671.79 234.68,673.75 235.28,675.18 C236.03,676.97 236.79,679.89 237.54,681.96 C238.3,684.04 239.05,686.11 239.8,687.62 C240.56,689.12 241.31,690.24 242.07,691.01 C242.67,691.62 243.27,692.14 243.88,692.14 C244.63,692.14 245.38,688.56 246.14,686.49 C246.89,684.41 247.65,681.9 248.4,679.7 C248.93,678.16 249.46,675.18 249.98,675.18 C250.51,675.18 251.04,677.98 251.57,679.7 C252.17,681.68 252.77,684.69 253.38,686.49 C254.13,688.73 254.89,691.01 255.64,691.01 C256.39,691.01 257.15,690.25 257.9,688.75 C258.66,687.24 259.41,683.85 260.16,681.96 C260.92,680.08 261.67,678.95 262.43,677.44 C263.18,675.93 263.93,674.43 264.69,672.92 C265.44,671.41 266.2,670.28 266.95,668.4 C267.7,666.51 268.46,662.87 269.21,661.61 C269.59,660.99 269.97,660.48 270.34,660.48 C270.72,660.48 271.1,667.46 271.48,670.66 C271.85,673.86 272.23,676.69 272.61,679.7" fill="none" stroke="#0000ff" stroke-width="1.0" stroke-linejoin="round"/>
<path d="M52.07,637.87 C52.37,628.45 52.68,618.28 52.98,609.61 C53.43,596.61 53.88,583.87 54.33,575.7 C54.86,566.16 55.39,563.45 55.92,559.87 C56.45,556.29 56.97,555.27 57.5,554.22 C57.88,553.46 58.26,553.09 58.63,553.09 C59.09,553.09 59.54,554.6 59.99,557.61 C60.37,560.12 60.75,565.15 61.12,568.91 C61.65,574.19 62.18,581 62.71,584.74 C63.08,587.41 63.46,590.39 63.84,590.39 C64.29,590.39 64.74,585.95 65.19,584.74 C65.65,583.54 66.1,582.93 66.55,582.93 C67,582.93 67.46,587.6 67.91,591.52 C68.44,596.11 68.97,603.96 69.49,609.61 C70.02,615.26 70.55,623.68 71.08,625.44 C71.53,626.95 71.98,627.7 72.43,627.7 C73.19,627.7 73.94,626.95 74.7,625.44 C75.22,624.38 75.75,617.15 76.28,611.87 C76.81,606.6 77.34,598.85 77.86,593.79 C78.47,588 79.07,582.63 79.67,580.22 C80.05,578.71 80.43,577.96 80.81,577.96 C81.33,577.96 81.86,579.52 82.39,582.48 C82.99,585.86 83.6,593.03 84.2,598.31 C84.8,603.58 85.41,610.52 86.01,614.13 C86.54,617.29 87.06,619.79 87.59,619.79 C88.35,619.79 89.1,617.34 89.86,616.4 C90.61,615.45 91.36,614.76 92.12,614.13 C92.65,613.7 93.17,613 93.7,613 C94.3,613 94.91,614.89 95.51,618.66 C95.89,621.01 96.27,626.19 96.64,629.96 C97.17,635.24 97.7,641.28 98.23,645.79 C98.83,650.94 99.43,657.02 100.04,658.22 C100.79,659.73 101.54,659.36 102.3,660.48 C102.9,661.38 103.51,662.43 104.11,663.88 C104.64,665.14 105.16,666.89 105.69,668.4 C106.22,669.91 106.75,672.92 107.28,672.92 C107.88,672.92 108.48,669.33 109.09,668.4 C109.54,667.7 109.99,667.27 110.44,667.27 C111.12,667.27 111.8,670.66 112.48,670.66 C113.01,670.66 113.54,670.66 114.06,670.66 C114.67,670.66 115.27,673.3 115.87,675.18 C116.48,677.07 117.08,681.96 117.68,681.96 C118.21,681.96 118.74,677.16 119.27,675.18 C120.02,672.35 120.78,668.4 121.53,668.4 C122.06,668.4 122.59,671.44 123.11,672.92 C123.72,674.61 124.32,676.69 124.92,677.89 C125.83,679.7 126.73,680 127.64,680.61 C128.54,681.21 129.45,680.91 130.35,681.51 C130.88,681.86 131.41,682.36 131.94,683.32 C132.52,684.39 133.11,684.83 133.7,687.84 C133.98,689.27 134.26,692.07 134.54,693.72 C134.76,695.06 134.99,697.11 135.22,697.11 C135.78,697.11 136.35,694.69 136.91,693.72 C137.48,692.75 138.05,691.28 138.61,691.28 C139.09,691.28 139.56,693.77 140.04,695.08 C140.56,696.53 141.09,698.51 141.62,699.6 C142.08,700.55 142.54,701.5 143,701.5 C143.6,701.5 144.19,698.8 144.79,697.34 C145.31,696.04 145.84,694.27 146.37,693.27 C146.82,692.43 147.26,691.51 147.71,691.51 C148.24,691.51 148.78,694.53 149.31,695.98 C149.91,697.62 150.52,699.86 151.12,700.73 C151.75,701.63 152.37,702.07 153,702.09 C159.31,702.24 165.62,702.31 171.93,702.31 C172.54,702.31 173.14,699.87 173.74,697.79 C174.27,695.97 174.8,692.23 175.33,691.01 C176.31,688.75 177.29,687.62 178.27,687.62 C178.8,687.62 179.32,688.56 179.85,689.88 C180.38,691.2 180.91,693.76 181.44,695.53 C182.04,697.56 182.64,701.18 183.25,701.18 C184,701.18 184.75,699.11 185.51,697.79 C186.26,696.47 187.02,694.46 187.77,693.27 C188.37,692.31 188.98,691.01 189.58,691.01 C190.11,691.01 190.64,693.27 191.16,693.27 C191.92,693.27 192.67,691.01 193.43,691.01 C194.18,691.01 194.93,692.14 195.69,692.14 C196.22,692.14 196.74,691.38 197.27,689.88 C197.72,688.59 198.18,686.43 198.63,684.22 C199.16,681.65 199.69,678.57 200.21,675.18 C200.74,671.79 201.27,666.5 201.8,663.88 C202.4,660.88 203,660.73 203.61,659.35 C204.36,657.64 205.11,656.34 205.87,654.83 C206.25,654.08 206.62,652.57 207,652.57 C207.53,652.57 208.06,655.93 208.58,658.22 C209.04,660.19 209.49,663.42 209.94,665.01 C210.24,666.06 210.54,667.27 210.85,667.27 C211.3,667.27 211.75,661.3 212.2,657.09 C212.73,652.18 213.26,643.53 213.79,639.01 C214.31,634.48 214.84,632.65 215.37,629.96 C215.97,626.89 216.58,624.43 217.18,622.05 C217.71,619.97 218.24,616.4 218.76,616.4 C219.37,616.4 219.97,618.61 220.57,619.79 C220.95,620.52 221.33,622.05 221.7,622.05 C222.31,622.05 222.91,612.39 223.51,607.35 C224.04,602.94 224.57,597.37 225.1,593.79 C225.63,590.21 226.15,585.87 226.68,585.87 C227.29,585.87 227.89,589.26 228.49,589.26 C229.1,589.26 229.7,588.51 230.3,587 C230.83,585.68 231.36,582.48 231.89,580.22 C232.41,577.96 232.94,575.19 233.47,573.44 C233.92,571.93 234.37,570.05 234.83,570.05 C235.35,570.05 235.88,572.12 236.41,574.57 C236.94,577.02 237.47,582.32 237.99,584.74 C238.6,587.51 239.2,589.26 239.8,589.26 C240.41,589.26 241.01,589.26 241.61,589.26 C242.14,589.26 242.67,593.41 243.2,594.92 C243.72,596.42 244.25,598.31 244.78,598.31 C245.38,598.31 245.99,592.28 246.59,589.26 C247.12,586.63 247.65,583.06 248.17,581.35 C248.55,580.13 248.93,579.09 249.3,579.09 C249.91,579.09 250.51,581.92 251.11,584.74 C251.72,587.57 252.32,592.91 252.92,596.05 C253.45,598.79 253.98,602.83 254.51,602.83 C255.26,602.83 256.02,601.51 256.77,600.57 C257.52,599.63 258.28,597.18 259.03,597.18 C259.79,597.18 260.54,598.5 261.3,599.44 C262.05,600.38 262.8,602.83 263.56,602.83 C264.31,602.83 265.07,600.64 265.82,599.44 C266.57,598.23 267.33,595.59 268.08,595.59 C268.61,595.59 269.14,598.01 269.67,602.83 C270.12,606.96 270.57,611.72 271.02,620.92 C271.32,627.05 271.63,635.99 271.93,643.53" fill="none" stroke="#000000" stroke-width="1.0" stroke-linejoin="round"/>
<rect x="49.5" y="538" width="225.3" height="167" fill="none" stroke="#000" stroke-width="1.6"/>
<line x1="45" y1="702.2" x2="49.5" y2="702.2" stroke="#111" stroke-width="0.9"/>
<text x="37.8" y="705.84" font-size="12.8" textLength="5.3" lengthAdjust="spacingAndGlyphs">0</text>
<line x1="47" y1="696.42" x2="49.5" y2="696.42" stroke="#111" stroke-width="0.9"/>
<line x1="47" y1="690.65" x2="49.5" y2="690.65" stroke="#111" stroke-width="0.9"/>
<line x1="47" y1="684.87" x2="49.5" y2="684.87" stroke="#111" stroke-width="0.9"/>
<line x1="45" y1="679.09" x2="49.5" y2="679.09" stroke="#111" stroke-width="0.9"/>
<text x="37.8" y="682.73" font-size="12.8" textLength="5.3" lengthAdjust="spacingAndGlyphs">2</text>
<line x1="47" y1="673.31" x2="49.5" y2="673.31" stroke="#111" stroke-width="0.9"/>
<line x1="47" y1="667.54" x2="49.5" y2="667.54" stroke="#111" stroke-width="0.9"/>
<line x1="47" y1="661.76" x2="49.5" y2="661.76" stroke="#111" stroke-width="0.9"/>
<line x1="45" y1="655.98" x2="49.5" y2="655.98" stroke="#111" stroke-width="0.9"/>
<text x="37.8" y="659.62" font-size="12.8" textLength="5.3" lengthAdjust="spacingAndGlyphs">4</text>
<line x1="47" y1="650.2" x2="49.5" y2="650.2" stroke="#111" stroke-width="0.9"/>
<line x1="47" y1="644.43" x2="49.5" y2="644.43" stroke="#111" stroke-width="0.9"/>
<line x1="47" y1="638.65" x2="49.5" y2="638.65" stroke="#111" stroke-width="0.9"/>
<line x1="45" y1="632.87" x2="49.5" y2="632.87" stroke="#111" stroke-width="0.9"/>
<text x="37.8" y="636.51" font-size="12.8" textLength="5.3" lengthAdjust="spacingAndGlyphs">6</text>
<line x1="47" y1="627.09" x2="49.5" y2="627.09" stroke="#111" stroke-width="0.9"/>
<line x1="47" y1="621.32" x2="49.5" y2="621.32" stroke="#111" stroke-width="0.9"/>
<line x1="47" y1="615.54" x2="49.5" y2="615.54" stroke="#111" stroke-width="0.9"/>
<line x1="45" y1="609.76" x2="49.5" y2="609.76" stroke="#111" stroke-width="0.9"/>
<text x="37.8" y="613.4" font-size="12.8" textLength="5.3" lengthAdjust="spacingAndGlyphs">8</text>
<line x1="47" y1="603.98" x2="49.5" y2="603.98" stroke="#111" stroke-width="0.9"/>
<line x1="47" y1="598.21" x2="49.5" y2="598.21" stroke="#111" stroke-width="0.9"/>
<line x1="47" y1="592.43" x2="49.5" y2="592.43" stroke="#111" stroke-width="0.9"/>
<line x1="45" y1="586.65" x2="49.5" y2="586.65" stroke="#111" stroke-width="0.9"/>
<text x="31" y="590.29" font-size="12.8" textLength="11.5" lengthAdjust="spacingAndGlyphs">10</text>
<line x1="47" y1="580.87" x2="49.5" y2="580.87" stroke="#111" stroke-width="0.9"/>
<line x1="47" y1="575.1" x2="49.5" y2="575.1" stroke="#111" stroke-width="0.9"/>
<line x1="47" y1="569.32" x2="49.5" y2="569.32" stroke="#111" stroke-width="0.9"/>
<line x1="45" y1="563.54" x2="49.5" y2="563.54" stroke="#111" stroke-width="0.9"/>
<text x="31" y="567.18" font-size="12.8" textLength="11.5" lengthAdjust="spacingAndGlyphs">12</text>
<line x1="47" y1="557.76" x2="49.5" y2="557.76" stroke="#111" stroke-width="0.9"/>
<line x1="47" y1="551.99" x2="49.5" y2="551.99" stroke="#111" stroke-width="0.9"/>
<line x1="47" y1="546.21" x2="49.5" y2="546.21" stroke="#111" stroke-width="0.9"/>
<line x1="45" y1="540.43" x2="49.5" y2="540.43" stroke="#111" stroke-width="0.9"/>
<text x="31" y="544.07" font-size="12.8" textLength="11.5" lengthAdjust="spacingAndGlyphs">14</text>
<line x1="53.81" y1="705" x2="53.81" y2="709.6" stroke="#111" stroke-width="0.9"/>
<text x="52.11" y="719.9" text-anchor="middle" font-size="12.6">-15</text>
<line x1="63.44" y1="705" x2="63.44" y2="707.6" stroke="#111" stroke-width="0.9"/>
<line x1="73.06" y1="705" x2="73.06" y2="707.6" stroke="#111" stroke-width="0.9"/>
<line x1="82.69" y1="705" x2="82.69" y2="707.6" stroke="#111" stroke-width="0.9"/>
<line x1="92.31" y1="705" x2="92.31" y2="707.6" stroke="#111" stroke-width="0.9"/>
<line x1="101.94" y1="705" x2="101.94" y2="709.6" stroke="#111" stroke-width="0.9"/>
<text x="100.24" y="719.9" text-anchor="middle" font-size="12.6">-10</text>
<line x1="111.57" y1="705" x2="111.57" y2="707.6" stroke="#111" stroke-width="0.9"/>
<line x1="121.19" y1="705" x2="121.19" y2="707.6" stroke="#111" stroke-width="0.9"/>
<line x1="130.82" y1="705" x2="130.82" y2="707.6" stroke="#111" stroke-width="0.9"/>
<line x1="140.44" y1="705" x2="140.44" y2="707.6" stroke="#111" stroke-width="0.9"/>
<line x1="150.07" y1="705" x2="150.07" y2="709.6" stroke="#111" stroke-width="0.9"/>
<text x="148.37" y="719.9" text-anchor="middle" font-size="12.6">-5</text>
<line x1="159.7" y1="705" x2="159.7" y2="707.6" stroke="#111" stroke-width="0.9"/>
<line x1="169.32" y1="705" x2="169.32" y2="707.6" stroke="#111" stroke-width="0.9"/>
<line x1="178.95" y1="705" x2="178.95" y2="707.6" stroke="#111" stroke-width="0.9"/>
<line x1="188.57" y1="705" x2="188.57" y2="707.6" stroke="#111" stroke-width="0.9"/>
<line x1="198.2" y1="705" x2="198.2" y2="709.6" stroke="#111" stroke-width="0.9"/>
<text x="198.05" y="719.9" text-anchor="middle" font-size="12.6">0</text>
<line x1="207.83" y1="705" x2="207.83" y2="707.6" stroke="#111" stroke-width="0.9"/>
<line x1="217.45" y1="705" x2="217.45" y2="707.6" stroke="#111" stroke-width="0.9"/>
<line x1="227.08" y1="705" x2="227.08" y2="707.6" stroke="#111" stroke-width="0.9"/>
<line x1="236.7" y1="705" x2="236.7" y2="707.6" stroke="#111" stroke-width="0.9"/>
<line x1="246.33" y1="705" x2="246.33" y2="709.6" stroke="#111" stroke-width="0.9"/>
<text x="246.18" y="719.9" text-anchor="middle" font-size="12.6">5</text>
<line x1="255.96" y1="705" x2="255.96" y2="707.6" stroke="#111" stroke-width="0.9"/>
<line x1="265.58" y1="705" x2="265.58" y2="707.6" stroke="#111" stroke-width="0.9"/>
<line x1="275.6" y1="550.3" x2="279.6" y2="550.3" stroke="#ff0000" stroke-width="1.5"/>
<text x="282.9" y="552.8" font-size="12.6" textLength="32.7" lengthAdjust="spacingAndGlyphs">Donor</text>
<line x1="275.6" y1="563.4" x2="279.6" y2="563.4" stroke="#008000" stroke-width="1.5"/>
<text x="282.9" y="565.9" font-size="12.6" textLength="45.2" lengthAdjust="spacingAndGlyphs"><tspan font-style="italic">π</tspan>-spacer</text>
<line x1="275.6" y1="576.8" x2="279.6" y2="576.8" stroke="#0000ff" stroke-width="1.5"/>
<text x="282.9" y="579.3" font-size="12.6" textLength="47.2" lengthAdjust="spacingAndGlyphs">Acceptor</text>
<line x1="275.6" y1="589.8" x2="279.6" y2="589.8" stroke="#000000" stroke-width="1.5"/>
<text x="282.9" y="592.3" font-size="12.6" textLength="27" lengthAdjust="spacingAndGlyphs">Total</text>
<text transform="translate(12.3,629) rotate(-90)" text-anchor="middle" font-size="15.3" textLength="110" lengthAdjust="spacingAndGlyphs">Relative Intensity</text>
<text x="126" y="744.8" font-size="13.6" textLength="75.2" lengthAdjust="spacingAndGlyphs">Energy <tspan font-style="italic">(eV)</tspan></text>
<text x="139.2" y="771.4" font-size="17.5" textLength="55.5" lengthAdjust="spacingAndGlyphs">TPBD5</text>
<path d="M403.07,670.66 C403.6,666.89 404.13,661.99 404.66,659.35 C405.18,656.72 405.71,654.83 406.24,654.83 C406.84,654.83 407.45,655.87 408.05,657.09 C408.8,658.62 409.56,661.3 410.31,663.88 C410.92,665.94 411.52,669.8 412.12,670.66 C412.65,671.41 413.18,671.79 413.71,671.79 C414.23,671.79 414.76,666.82 415.29,663.88 C415.89,660.51 416.5,655.21 417.1,652.57 C417.7,649.93 418.31,648.05 418.91,648.05 C419.66,648.05 420.42,649.18 421.17,650.31 C421.93,651.44 422.68,653.7 423.43,654.83 C424.19,655.96 424.94,657.09 425.7,657.09 C426.45,657.09 427.21,650.69 427.96,645.79 C428.71,640.89 429.47,633.67 430.22,627.7 C430.75,623.52 431.28,617.61 431.81,615.26 C432.11,613.92 432.41,613 432.71,613 C433.16,613 433.62,615.85 434.07,618.66 C434.6,621.93 435.12,627.96 435.65,632.22 C436.25,637.09 436.86,642.77 437.46,645.79 C438.22,649.56 438.97,651.44 439.72,651.44 C440.48,651.44 441.23,648.24 441.99,645.79 C442.74,643.34 443.49,638.75 444.25,636.74 C444.78,635.34 445.3,634.03 445.83,634.03 C446.36,634.03 446.89,636.27 447.42,639.01 C448.02,642.13 448.62,648.99 449.23,652.57 C449.98,657.05 450.73,658.18 451.49,661.61 C452.09,664.36 452.7,666.53 453.3,670.66 C453.68,673.24 454.05,677.27 454.43,679.7 C454.96,683.11 455.49,684.97 456.01,686.49 C456.47,687.79 456.92,688.75 457.37,688.75 C458.13,688.75 458.88,685.54 459.63,684.22 C460.39,682.91 461.14,680.83 461.9,680.83 C462.8,680.83 463.71,682.97 464.61,684.22 C465.37,685.27 466.12,686.67 466.87,687.62 C467.63,688.56 468.38,689.31 469.14,689.88 C469.89,690.44 470.64,691.01 471.4,691.01 C472.15,691.01 472.91,689.5 473.66,688.75 C474.41,687.99 475.17,687.1 475.92,686.49 C477.05,685.57 478.19,685.16 479.32,684.68 C480.41,684.21 481.5,683.61 482.6,683.61 C483.39,683.61 484.18,686.92 484.97,688.75 C485.92,690.92 486.86,695.76 487.8,695.76 C488.37,695.76 488.93,694.08 489.5,693.27 C490.03,692.5 490.57,691.01 491.1,691.01 C491.68,691.01 492.27,694.05 492.85,695.53 C493.45,697.07 494.05,699.03 494.66,700.05 C495.26,701.07 495.86,701.63 496.47,701.63 C500.01,701.63 503.55,701.63 507.1,701.63 C511.62,701.63 516.15,701.63 520.67,701.63 C521.43,701.63 522.18,700.55 522.93,700.05 C523.54,699.65 524.14,698.92 524.74,698.92 C525.27,698.92 525.8,700.19 526.33,700.5 C527.08,700.96 527.84,701.18 528.59,701.18 C529.72,701.18 530.85,700.05 531.98,700.05 C532.74,700.05 533.49,701.18 534.25,701.18 C535.38,701.18 536.51,701.18 537.64,701.18 C538.62,701.18 539.6,700.43 540.58,698.92 C541.33,697.76 542.09,693.72 542.84,693.72 C543.37,693.72 543.9,695.67 544.43,695.98 C545.18,696.43 545.93,696.66 546.69,696.66 C547.44,696.66 548.2,695.98 548.95,695.98 C549.7,695.98 550.46,696.66 551.21,696.66 C551.97,696.66 552.72,691.86 553.48,688.75 C554,686.57 554.53,681.91 555.06,681.51 C555.66,681.06 556.27,680.83 556.87,680.83 C557.62,680.83 558.38,681.96 559.13,681.96 C560.04,681.96 560.94,681.96 561.85,681.96 C562.6,681.96 563.35,683.09 564.11,683.09 C564.71,683.09 565.31,679.51 565.92,675.18 C566.52,670.85 567.12,662.2 567.73,657.09 C568.26,652.62 568.78,648.5 569.31,645.79 C569.84,643.07 570.37,640.81 570.9,640.81 C571.5,640.81 572.1,642.32 572.7,643.53 C573.31,644.73 573.91,648.05 574.51,648.05 C575.04,648.05 575.57,648.05 576.1,648.05 C576.85,648.05 577.61,642.02 578.36,639.01 C579.11,635.99 579.87,632.03 580.62,629.96 C581.38,627.89 582.13,627.02 582.89,626.57 C583.64,626.12 584.39,625.89 585.15,625.89 C585.68,625.89 586.2,628.62 586.73,629.96 C587.33,631.49 587.94,633.73 588.54,634.48 C589.14,635.24 589.75,635.61 590.35,635.61 C591.1,635.61 591.86,634.11 592.61,633.35 C593.37,632.6 594.12,631.79 594.88,631.09 C595.48,630.53 596.08,629.51 596.69,629.51 C597.21,629.51 597.74,633.09 598.27,634.48 C598.8,635.88 599.32,637.87 599.85,637.87 C600.61,637.87 601.36,634.29 602.11,632.22 C602.87,630.15 603.62,625.44 604.38,625.44 C604.98,625.44 605.58,630.25 606.19,632.22 C606.71,633.95 607.24,636.74 607.77,636.74 C608.52,636.74 609.28,636.74 610.03,636.74 C610.79,636.74 611.54,636.74 612.3,636.74 C613.05,636.74 613.8,635.16 614.56,634.48 C615.31,633.8 616.07,632.67 616.82,632.67 C617.35,632.67 617.88,634.03 618.4,636.74 C618.86,639.07 619.31,644.23 619.76,648.05 C620.29,652.5 620.82,657.09 621.34,661.61 C621.87,666.14 622.4,670.66 622.93,675.18" fill="none" stroke="#008000" stroke-width="1.0" stroke-linejoin="round"/>
<path d="M403.07,681.96 C403.37,678.95 403.68,675.33 403.98,672.92 C404.43,669.3 404.88,666.14 405.33,666.14 C405.86,666.14 406.39,668.4 406.92,669.53 C407.45,670.66 407.97,672.92 408.5,672.92 C409.11,672.92 409.71,672.17 410.31,670.66 C410.92,669.15 411.52,665.78 412.12,661.61 C412.65,657.97 413.18,651.08 413.71,648.05 C414.16,645.45 414.61,643.53 415.06,643.53 C415.59,643.53 416.12,645.03 416.65,648.05 C417.17,651.06 417.7,657.47 418.23,661.61 C418.76,665.76 419.29,670.29 419.81,672.92 C420.42,675.92 421.02,677.44 421.62,677.44 C422.38,677.44 423.13,676.31 423.89,676.31 C424.64,676.31 425.4,676.31 426.15,676.31 C426.9,676.31 427.66,673.3 428.41,671.79 C429.17,670.28 429.92,668.4 430.67,667.27 C431.43,666.14 432.18,665.76 432.94,665.01 C433.69,664.25 434.44,663.69 435.2,662.75 C435.73,662.08 436.25,660.48 436.78,660.48 C437.39,660.48 437.99,662.98 438.59,663.88 C439.35,665 440.1,665.51 440.86,666.14 C441.38,666.58 441.91,666.6 442.44,667.27 C443.04,668.02 443.65,668.96 444.25,670.66 C445,672.78 445.76,676.69 446.51,679.7 C447.27,682.72 448.02,686.49 448.77,688.75 C449.53,691.01 450.28,692.26 451.04,693.27 C451.41,693.77 451.79,694.4 452.17,694.4 C452.92,694.4 453.68,691.2 454.43,688.75 C455.18,686.3 455.94,679.7 456.69,679.7 C457.22,679.7 457.75,680.08 458.28,680.83 C458.88,681.69 459.48,686.67 460.09,688.75 C460.69,690.82 461.29,692.16 461.9,693.27 C462.65,694.65 463.4,695.53 464.16,695.53 C464.91,695.53 465.67,694.78 466.42,694.4 C467.17,694.02 467.93,694.02 468.68,693.27 C469.44,692.52 470.19,688.8 470.95,686.49 C471.85,683.7 472.76,677.89 473.66,677.89 C474.26,677.89 474.87,678.5 475.47,679.7 C475.85,680.46 476.22,681.91 476.6,683.09 C477.05,684.52 477.51,686.06 477.96,687.62 C478.49,689.43 479.02,691.83 479.54,693.27 C480.15,694.91 480.75,695.55 481.35,696.43 C482.18,697.65 483.01,698.48 483.84,699.15 C484.82,699.93 485.8,700.27 486.78,700.5 C489.96,701.26 493.13,701.63 496.31,701.63 C496.89,701.63 497.47,699.16 498.05,697.79 C498.65,696.37 499.26,694.43 499.86,693.27 C500.44,692.15 501.02,690.89 501.6,690.89 C502.15,690.89 502.7,694 503.25,695.53 C503.86,697.21 504.46,699.72 505.06,700.5 C505.64,701.26 506.22,701.63 506.8,701.63 C511.43,701.63 516.05,701.63 520.67,701.63 C525.2,701.63 529.72,701.63 534.25,701.63 C537.26,701.63 540.28,701.48 543.3,701.18 C545.18,700.99 547.07,700.81 548.95,700.05 C550.08,699.6 551.21,699.3 552.34,697.79 C553.1,696.79 553.85,691.57 554.61,688.75 C555.36,685.92 556.11,682.79 556.87,680.83 C557.47,679.27 558.08,677.44 558.68,677.44 C559.21,677.44 559.73,679.63 560.26,680.83 C561.02,682.56 561.77,684.79 562.52,686.49 C563.28,688.18 564.03,691.01 564.79,691.01 C565.54,691.01 566.3,687.99 567.05,686.49 C567.8,684.98 568.56,683.47 569.31,681.96 C570.07,680.46 570.82,679.33 571.57,677.44 C572.33,675.56 573.08,672.35 573.84,670.66 C574.59,668.96 575.34,668.4 576.1,667.27 C576.85,666.14 577.61,664.63 578.36,663.88 C579.11,663.12 579.87,662.75 580.62,662.75 C581.15,662.75 581.68,664.61 582.21,666.14 C582.81,667.88 583.41,672.17 584.02,672.92 C584.62,673.67 585.22,674.05 585.83,674.05 C586.35,674.05 586.88,667.46 587.41,663.88 C587.94,660.3 588.47,655.26 588.99,652.57 C589.45,650.27 589.9,648.05 590.35,648.05 C590.88,648.05 591.41,649.93 591.93,652.57 C592.46,655.21 592.99,662.12 593.52,663.88 C593.97,665.38 594.42,666.14 594.88,666.14 C595.4,666.14 595.93,662.83 596.46,661.61 C597.21,659.88 597.97,658.87 598.72,658.22 C599.25,657.77 599.78,657.55 600.3,657.55 C600.91,657.55 601.51,658.75 602.11,659.35 C602.87,660.11 603.62,660.86 604.38,661.61 C605.13,662.37 605.89,663.31 606.64,663.88 C607.39,664.44 608.15,664.44 608.9,665.01 C609.66,665.57 610.41,667.27 611.16,667.27 C611.77,667.27 612.37,666.05 612.97,665.01 C613.5,664.1 614.03,661.61 614.56,661.61 C615.31,661.61 616.07,663.69 616.82,665.01 C617.57,666.33 618.33,667.32 619.08,669.53 C619.61,671.07 620.14,672.33 620.67,675.18 C621.27,678.44 621.87,684.22 622.48,688.75" fill="none" stroke="#ff0000" stroke-width="1.0" stroke-linejoin="round"/>
<path d="M403.07,689.88 C403.37,686.49 403.68,682.34 403.98,679.7 C404.43,675.75 404.88,672.92 405.33,672.92 C405.86,672.92 406.39,673.3 406.92,674.05 C407.45,674.8 407.97,678.05 408.5,679.7 C409.26,682.06 410.01,684.41 410.76,685.36 C411.37,686.11 411.97,686.49 412.57,686.49 C413.33,686.49 414.08,683.42 414.84,681.96 C415.44,680.8 416.04,678.57 416.65,678.57 C417.17,678.57 417.7,681.66 418.23,683.09 C418.98,685.14 419.74,687.43 420.49,688.75 C421.25,690.07 422,691.01 422.76,691.01 C423.51,691.01 424.26,688.94 425.02,687.62 C425.77,686.3 426.53,684.41 427.28,683.09 C428.03,681.78 428.79,679.7 429.54,679.7 C430.3,679.7 431.05,680.83 431.81,680.83 C432.56,680.83 433.31,679.7 434.07,679.7 C434.82,679.7 435.58,679.7 436.33,679.7 C436.86,679.7 437.39,681.96 437.91,681.96 C438.52,681.96 439.12,677.82 439.72,675.18 C440.33,672.54 440.93,668.41 441.53,666.14 C441.91,664.72 442.29,662.75 442.67,662.75 C443.19,662.75 443.72,663.59 444.25,665.01 C445,667.04 445.76,670.53 446.51,675.18 C447.11,678.9 447.72,685.26 448.32,688.75 C448.85,691.8 449.38,694.1 449.9,695.53 C450.28,696.55 450.66,697.34 451.04,697.34 C451.79,697.34 452.54,695.08 453.3,693.27 C454.05,691.46 454.81,688.58 455.56,686.49 C456.47,683.98 457.37,679.7 458.28,679.7 C458.88,679.7 459.48,681.01 460.09,681.96 C460.84,683.16 461.59,684.98 462.35,686.49 C463.1,687.99 463.86,689.81 464.61,691.01 C465.21,691.96 465.82,692.23 466.42,693.27 C466.95,694.18 467.48,695.67 468,696.66 C468.76,698.08 469.51,699.3 470.27,700.05 C471.02,700.81 471.78,701.18 472.53,701.18 C474.04,701.18 475.55,701.18 477.05,701.18 C478.19,701.18 479.32,700.5 480.45,700.5 C481.58,700.5 482.71,700.99 483.84,701.18 C484.97,701.37 486.1,701.63 487.24,701.63 C498.38,701.63 509.53,701.63 520.67,701.63 C521.28,701.63 521.88,699.31 522.48,697.79 C523.01,696.46 523.54,693.27 524.07,693.27 C524.59,693.27 525.12,694.82 525.65,695.53 C526.25,696.34 526.86,697.79 527.46,697.79 C528.21,697.79 528.97,694.2 529.72,693.27 C530.32,692.52 530.93,692.14 531.53,692.14 C532.06,692.14 532.59,693.27 533.11,693.27 C533.87,693.27 534.62,693.27 535.38,693.27 C535.9,693.27 536.43,691.01 536.96,691.01 C537.56,691.01 538.17,692.58 538.77,693.27 C539.52,694.13 540.28,694.96 541.03,695.53 C541.79,696.09 542.54,696.66 543.3,696.66 C544.05,696.66 544.8,694.29 545.56,693.27 C546.16,692.45 546.76,692.37 547.37,691.01 C547.9,689.82 548.42,686.03 548.95,686.03 C549.48,686.03 550.01,687.65 550.53,688.75 C551.14,690 551.74,691.9 552.34,693.27 C553.1,694.99 553.85,696.66 554.61,697.79 C555.36,698.92 556.11,700.05 556.87,700.05 C557.62,700.05 558.38,699.79 559.13,699.6 C559.89,699.41 560.64,699.22 561.39,698.92 C562.15,698.62 562.9,698.36 563.66,697.79 C564.41,697.23 565.16,696.66 565.92,695.53 C566.67,694.4 567.43,692.26 568.18,691.01 C568.71,690.13 569.24,688.75 569.76,688.75 C570.37,688.75 570.97,691.88 571.57,693.27 C572.1,694.49 572.63,696.66 573.16,696.66 C573.91,696.66 574.67,693.83 575.42,692.14 C576.17,690.44 576.93,687.43 577.68,686.49 C578.29,685.73 578.89,685.36 579.49,685.36 C580.25,685.36 581,686.49 581.75,686.49 C582.36,686.49 582.96,683.47 583.56,681.96 C584.32,680.08 585.07,677.72 585.83,676.31 C586.35,675.32 586.88,674.05 587.41,674.05 C587.94,674.05 588.47,676.07 588.99,677.44 C589.6,679.01 590.2,681.38 590.8,683.09 C591.56,685.24 592.31,687.05 593.07,688.75 C593.82,690.44 594.57,692.34 595.33,693.27 C595.93,694.01 596.53,694.4 597.14,694.4 C597.89,694.4 598.65,690.35 599.4,688.75 C600.3,686.83 601.21,685.54 602.11,684.22 C603.02,682.91 603.92,680.83 604.83,680.83 C605.43,680.83 606.04,683.85 606.64,685.36 C607.39,687.24 608.15,689.31 608.9,691.01 C609.66,692.7 610.41,694.44 611.16,695.53 C611.77,696.4 612.37,697.34 612.97,697.34 C613.5,697.34 614.03,695.63 614.56,694.4 C615.31,692.64 616.07,689.5 616.82,687.62 C617.57,685.73 618.33,683.09 619.08,683.09 C619.61,683.09 620.14,684.18 620.67,685.36 C621.27,686.69 621.87,689.03 622.48,691.01 C622.7,691.75 622.93,692.52 623.15,693.27" fill="none" stroke="#0000ff" stroke-width="1.0" stroke-linejoin="round"/>
<path d="M403.07,650.31 C403.37,640.51 403.68,629.01 403.98,620.92 C404.43,608.78 404.88,601.62 405.33,596.05 C405.79,590.47 406.24,587.45 406.69,587.45 C407.14,587.45 407.6,590.09 408.05,593.79 C408.5,597.48 408.95,605.79 409.41,609.61 C410.09,615.34 410.76,618.2 411.44,618.2 C411.97,618.2 412.5,615.77 413.03,611.87 C413.63,607.42 414.23,596.61 414.84,591.52 C415.44,586.44 416.04,581.35 416.65,581.35 C417.17,581.35 417.7,584.93 418.23,589.26 C418.76,593.6 419.29,603.06 419.81,607.35 C420.42,612.26 421.02,615.26 421.62,615.26 C422.38,615.26 423.13,615.26 423.89,615.26 C424.64,615.26 425.4,614.89 426.15,614.13 C426.75,613.53 427.36,603.45 427.96,596.05 C428.49,589.57 429.02,579.84 429.54,573.44 C430.07,567.03 430.6,560.54 431.13,557.61 C431.43,555.94 431.73,554.9 432.03,554.9 C432.48,554.9 432.94,557.71 433.39,559.87 C433.99,562.75 434.6,566.65 435.2,571.18 C435.8,575.7 436.41,583.39 437.01,587 C437.54,590.16 438.06,592.66 438.59,592.66 C439.12,592.66 439.65,589.85 440.18,587 C440.78,583.74 441.38,576.93 441.99,573.44 C442.51,570.38 443.04,566.65 443.57,566.65 C444.1,566.65 444.63,568.16 445.15,571.18 C445.61,573.76 446.06,580.6 446.51,587 C446.96,593.41 447.42,602.08 447.87,609.61 C448.32,617.15 448.77,625.82 449.23,632.22 C449.68,638.63 450.13,645.47 450.58,648.05 C451.11,651.06 451.64,652.57 452.17,652.57 C452.92,652.57 453.68,649.1 454.43,648.05 C455.18,646.99 455.94,646.24 456.69,646.24 C457.22,646.24 457.75,647.89 458.28,649.18 C458.88,650.66 459.48,653.25 460.09,654.83 C460.84,656.81 461.59,658.22 462.35,659.35 C463.1,660.48 463.86,660.11 464.61,661.61 C465.21,662.82 465.82,665.51 466.42,668.4 C466.95,670.93 467.48,674.62 468,677.44 C468.53,680.27 469.06,685.36 469.59,685.36 C470.19,685.36 470.79,678.4 471.4,675.18 C472.15,671.15 472.91,663.88 473.66,663.88 C474.26,663.88 474.87,666.78 475.47,668.4 C476,669.82 476.53,671.71 477.05,672.92 C477.81,674.65 478.56,675.21 479.32,676.31 C479.84,677.08 480.37,677.71 480.9,678.57 C481.5,679.56 482.11,680.53 482.71,681.96 C483.46,683.75 484.22,686.66 484.97,688.75 C485.92,691.36 486.86,695.76 487.8,695.76 C488.37,695.76 488.93,693.72 489.5,692.82 C490.03,691.96 490.57,690.44 491.1,690.44 C491.68,690.44 492.27,693.95 492.85,695.53 C493.45,697.17 494.05,699.02 494.66,700.05 C495.21,700.99 495.76,701.68 496.31,701.68 C496.89,701.68 497.47,698.79 498.05,697.34 C498.65,695.83 499.26,693.97 499.86,692.82 C500.44,691.7 501.02,690.44 501.6,690.44 C502.15,690.44 502.7,693.55 503.25,695.08 C503.86,696.75 504.46,698.92 505.06,700.05 C505.64,701.14 506.22,701.86 506.8,701.86 C511.43,701.86 516.05,701.86 520.67,701.86 C521.28,701.86 521.88,699.8 522.48,697.79 C523.01,696.03 523.54,692.3 524.07,691.01 C524.29,690.45 524.52,689.88 524.74,689.88 C525.27,689.88 525.8,693.08 526.33,694.4 C526.86,695.72 527.38,697.79 527.91,697.79 C528.51,697.79 529.12,694.43 529.72,693.27 C530.48,691.82 531.23,690.56 531.98,690.56 C532.59,690.56 533.19,693.27 533.79,693.27 C534.32,693.27 534.85,692.52 535.38,692.14 C535.9,691.76 536.43,691.36 536.96,691.01 C537.56,690.6 538.17,689.88 538.77,689.88 C539.37,689.88 539.98,691.01 540.58,691.01 C541.33,691.01 542.09,690.25 542.84,689.88 C543.6,689.5 544.35,689.5 545.1,688.75 C545.63,688.22 546.16,686.86 546.69,685.36 C547.22,683.85 547.74,681.05 548.27,679.7 C548.72,678.55 549.18,677.44 549.63,677.44 C550.16,677.44 550.69,679.7 551.21,679.7 C551.97,679.7 552.72,675.93 553.48,672.92 C554.23,669.91 554.98,664.44 555.74,661.61 C556.49,658.79 557.25,657.09 558,655.96 C558.38,655.4 558.75,654.83 559.13,654.83 C559.73,654.83 560.34,656.93 560.94,658.22 C561.7,659.85 562.45,662.47 563.2,663.88 C563.73,664.86 564.26,666.14 564.79,666.14 C565.31,666.14 565.84,661.31 566.37,654.83 C566.82,649.28 567.28,638.07 567.73,632.22 C568.26,625.4 568.78,622.42 569.31,618.66 C569.84,614.89 570.37,609.61 570.9,609.61 C571.35,609.61 571.8,610.39 572.25,610.74 C572.78,611.15 573.31,611.87 573.84,611.87 C574.36,611.87 574.89,604.42 575.42,600.57 C576.02,596.16 576.63,590.77 577.23,587 C577.83,583.23 578.44,580.05 579.04,577.96 C579.57,576.12 580.1,574.57 580.62,574.57 C581.15,574.57 581.68,577.96 582.21,577.96 C582.81,577.96 583.41,575.32 584.02,573.44 C584.62,571.55 585.22,568.71 585.83,566.65 C586.58,564.08 587.33,561.44 588.09,559.87 C588.62,558.78 589.14,557.61 589.67,557.61 C590.2,557.61 590.73,559.79 591.26,562.13 C591.86,564.81 592.46,569.59 593.07,573.44 C593.67,577.28 594.27,585.19 594.88,585.19 C595.4,585.19 595.93,582.37 596.46,581.35 C596.99,580.33 597.51,579.09 598.04,579.09 C598.65,579.09 599.25,580.22 599.85,580.22 C600.46,580.22 601.06,576.33 601.66,573.44 C602.19,570.91 602.72,566.08 603.25,564.39 C603.62,563.19 604,562.58 604.38,562.58 C604.98,562.58 605.58,565.63 606.19,568.91 C606.71,571.79 607.24,576.92 607.77,580.22 C608.52,584.94 609.28,589.02 610.03,591.52 C610.56,593.28 611.09,594.92 611.62,594.92 C612.22,594.92 612.82,594.16 613.43,592.66 C614.03,591.15 614.63,587.8 615.24,585.87 C615.99,583.46 616.74,580.22 617.5,580.22 C618.03,580.22 618.55,581.35 619.08,583.61 C619.61,585.87 620.14,590.37 620.67,598.31 C621.12,605.12 621.57,614.18 622.02,625.44 C622.4,634.83 622.78,647.3 623.15,658.22" fill="none" stroke="#000000" stroke-width="1.0" stroke-linejoin="round"/>
<rect x="400.5" y="538.8" width="225.8" height="166.2" fill="none" stroke="#000" stroke-width="1.6"/>
<line x1="396" y1="701.9" x2="400.5" y2="701.9" stroke="#111" stroke-width="0.9"/>
<text x="389.1" y="706.14" font-size="12.8" textLength="5.3" lengthAdjust="spacingAndGlyphs">0</text>
<line x1="398" y1="695.18" x2="400.5" y2="695.18" stroke="#111" stroke-width="0.9"/>
<line x1="398" y1="688.47" x2="400.5" y2="688.47" stroke="#111" stroke-width="0.9"/>
<line x1="398" y1="681.75" x2="400.5" y2="681.75" stroke="#111" stroke-width="0.9"/>
<line x1="396" y1="675.04" x2="400.5" y2="675.04" stroke="#111" stroke-width="0.9"/>
<text x="389.1" y="679.28" font-size="12.8" textLength="5.3" lengthAdjust="spacingAndGlyphs">2</text>
<line x1="398" y1="668.32" x2="400.5" y2="668.32" stroke="#111" stroke-width="0.9"/>
<line x1="398" y1="661.61" x2="400.5" y2="661.61" stroke="#111" stroke-width="0.9"/>
<line x1="398" y1="654.89" x2="400.5" y2="654.89" stroke="#111" stroke-width="0.9"/>
<line x1="396" y1="648.18" x2="400.5" y2="648.18" stroke="#111" stroke-width="0.9"/>
<text x="389.1" y="652.42" font-size="12.8" textLength="5.3" lengthAdjust="spacingAndGlyphs">4</text>
<line x1="398" y1="641.46" x2="400.5" y2="641.46" stroke="#111" stroke-width="0.9"/>
<line x1="398" y1="634.75" x2="400.5" y2="634.75" stroke="#111" stroke-width="0.9"/>
<line x1="398" y1="628.03" x2="400.5" y2="628.03" stroke="#111" stroke-width="0.9"/>
<line x1="396" y1="621.32" x2="400.5" y2="621.32" stroke="#111" stroke-width="0.9"/>
<text x="389.1" y="625.56" font-size="12.8" textLength="5.3" lengthAdjust="spacingAndGlyphs">6</text>
<line x1="398" y1="614.61" x2="400.5" y2="614.61" stroke="#111" stroke-width="0.9"/>
<line x1="398" y1="607.89" x2="400.5" y2="607.89" stroke="#111" stroke-width="0.9"/>
<line x1="398" y1="601.17" x2="400.5" y2="601.17" stroke="#111" stroke-width="0.9"/>
<line x1="396" y1="594.46" x2="400.5" y2="594.46" stroke="#111" stroke-width="0.9"/>
<text x="389.1" y="598.7" font-size="12.8" textLength="5.3" lengthAdjust="spacingAndGlyphs">8</text>
<line x1="398" y1="587.75" x2="400.5" y2="587.75" stroke="#111" stroke-width="0.9"/>
<line x1="398" y1="581.03" x2="400.5" y2="581.03" stroke="#111" stroke-width="0.9"/>
<line x1="398" y1="574.31" x2="400.5" y2="574.31" stroke="#111" stroke-width="0.9"/>
<line x1="396" y1="567.6" x2="400.5" y2="567.6" stroke="#111" stroke-width="0.9"/>
<text x="382.3" y="571.84" font-size="12.8" textLength="11.5" lengthAdjust="spacingAndGlyphs">10</text>
<line x1="398" y1="560.88" x2="400.5" y2="560.88" stroke="#111" stroke-width="0.9"/>
<line x1="398" y1="554.17" x2="400.5" y2="554.17" stroke="#111" stroke-width="0.9"/>
<line x1="398" y1="547.45" x2="400.5" y2="547.45" stroke="#111" stroke-width="0.9"/>
<line x1="396" y1="540.74" x2="400.5" y2="540.74" stroke="#111" stroke-width="0.9"/>
<text x="382.3" y="544.98" font-size="12.8" textLength="11.5" lengthAdjust="spacingAndGlyphs">12</text>
<line x1="405.12" y1="705" x2="405.12" y2="709.6" stroke="#111" stroke-width="0.9"/>
<text x="403.42" y="719.9" text-anchor="middle" font-size="12.6">-15</text>
<line x1="414.97" y1="705" x2="414.97" y2="707.6" stroke="#111" stroke-width="0.9"/>
<line x1="424.83" y1="705" x2="424.83" y2="707.6" stroke="#111" stroke-width="0.9"/>
<line x1="434.69" y1="705" x2="434.69" y2="707.6" stroke="#111" stroke-width="0.9"/>
<line x1="444.55" y1="705" x2="444.55" y2="707.6" stroke="#111" stroke-width="0.9"/>
<line x1="454.41" y1="705" x2="454.41" y2="709.6" stroke="#111" stroke-width="0.9"/>
<text x="452.71" y="719.9" text-anchor="middle" font-size="12.6">-10</text>
<line x1="464.27" y1="705" x2="464.27" y2="707.6" stroke="#111" stroke-width="0.9"/>
<line x1="474.13" y1="705" x2="474.13" y2="707.6" stroke="#111" stroke-width="0.9"/>
<line x1="483.99" y1="705" x2="483.99" y2="707.6" stroke="#111" stroke-width="0.9"/>
<line x1="493.85" y1="705" x2="493.85" y2="707.6" stroke="#111" stroke-width="0.9"/>
<line x1="503.7" y1="705" x2="503.7" y2="709.6" stroke="#111" stroke-width="0.9"/>
<text x="502" y="719.9" text-anchor="middle" font-size="12.6">-5</text>
<line x1="513.56" y1="705" x2="513.56" y2="707.6" stroke="#111" stroke-width="0.9"/>
<line x1="523.42" y1="705" x2="523.42" y2="707.6" stroke="#111" stroke-width="0.9"/>
<line x1="533.28" y1="705" x2="533.28" y2="707.6" stroke="#111" stroke-width="0.9"/>
<line x1="543.14" y1="705" x2="543.14" y2="707.6" stroke="#111" stroke-width="0.9"/>
<line x1="553" y1="705" x2="553" y2="709.6" stroke="#111" stroke-width="0.9"/>
<text x="552.85" y="719.9" text-anchor="middle" font-size="12.6">0</text>
<line x1="562.86" y1="705" x2="562.86" y2="707.6" stroke="#111" stroke-width="0.9"/>
<line x1="572.72" y1="705" x2="572.72" y2="707.6" stroke="#111" stroke-width="0.9"/>
<line x1="582.58" y1="705" x2="582.58" y2="707.6" stroke="#111" stroke-width="0.9"/>
<line x1="592.44" y1="705" x2="592.44" y2="707.6" stroke="#111" stroke-width="0.9"/>
<line x1="602.29" y1="705" x2="602.29" y2="709.6" stroke="#111" stroke-width="0.9"/>
<text x="602.14" y="719.9" text-anchor="middle" font-size="12.6">5</text>
<line x1="612.15" y1="705" x2="612.15" y2="707.6" stroke="#111" stroke-width="0.9"/>
<line x1="622.01" y1="705" x2="622.01" y2="707.6" stroke="#111" stroke-width="0.9"/>
<line x1="627.1" y1="551.8" x2="631.1" y2="551.8" stroke="#ff0000" stroke-width="1.5"/>
<text x="633.3" y="554.3" font-size="12.6" textLength="32.7" lengthAdjust="spacingAndGlyphs">Donor</text>
<line x1="627.1" y1="564.9" x2="631.1" y2="564.9" stroke="#008000" stroke-width="1.5"/>
<text x="633.3" y="567.4" font-size="12.6" textLength="45.2" lengthAdjust="spacingAndGlyphs"><tspan font-style="italic">π</tspan>-spacer</text>
<line x1="627.1" y1="578.2" x2="631.1" y2="578.2" stroke="#0000ff" stroke-width="1.5"/>
<text x="633.3" y="580.7" font-size="12.6" textLength="47.2" lengthAdjust="spacingAndGlyphs">Acceptor</text>
<line x1="627.1" y1="591.3" x2="631.1" y2="591.3" stroke="#000000" stroke-width="1.5"/>
<text x="633.3" y="593.8" font-size="12.6" textLength="27" lengthAdjust="spacingAndGlyphs">Total</text>
<text transform="translate(364,624.45) rotate(-90)" text-anchor="middle" font-size="15.3" textLength="109.5" lengthAdjust="spacingAndGlyphs">Relative Intensity</text>
<text x="482.8" y="743.6" font-size="13.6" textLength="75.5" lengthAdjust="spacingAndGlyphs">Energy <tspan font-style="italic">(eV)</tspan></text>
<text x="489" y="771.4" font-size="17.5" textLength="55.7" lengthAdjust="spacingAndGlyphs">TPBD6</text>
</svg>
</body></html>
